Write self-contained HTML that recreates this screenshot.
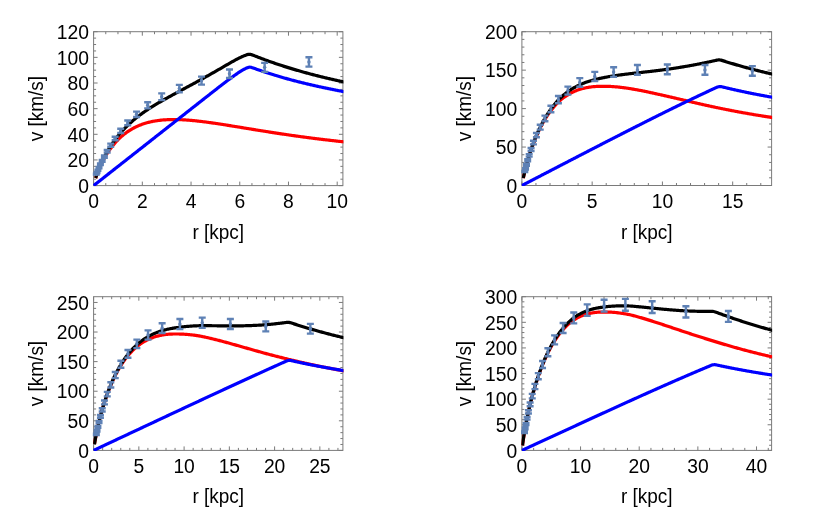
<!DOCTYPE html>
<html><head><meta charset="utf-8"><title>Rotation curves</title>
<style>html,body{margin:0;padding:0;background:#fff;}body{width:830px;height:513px;overflow:hidden;font-family:"Liberation Sans",sans-serif;}</style>
</head><body>
<svg width="830" height="513" viewBox="0 0 830 513" style="display:block;will-change:transform">
<rect width="830" height="513" fill="#fff"/>
<clipPath id="c0"><rect x="93.1" y="31.2" width="250.30" height="154.90"/></clipPath>
<g stroke="#7a7a7a" stroke-width="1" fill="none">
<rect x="93.6" y="31.7" width="249.30" height="153.90"/>
<path d="M93.60,185.6v-4.0M93.60,31.7v4.0M105.78,185.6v-2.5M105.78,31.7v2.5M117.96,185.6v-2.5M117.96,31.7v2.5M130.14,185.6v-2.5M130.14,31.7v2.5M142.32,185.6v-4.0M142.32,31.7v4.0M154.50,185.6v-2.5M154.50,31.7v2.5M166.68,185.6v-2.5M166.68,31.7v2.5M178.86,185.6v-2.5M178.86,31.7v2.5M191.04,185.6v-4.0M191.04,31.7v4.0M203.22,185.6v-2.5M203.22,31.7v2.5M215.40,185.6v-2.5M215.40,31.7v2.5M227.58,185.6v-2.5M227.58,31.7v2.5M239.76,185.6v-4.0M239.76,31.7v4.0M251.94,185.6v-2.5M251.94,31.7v2.5M264.12,185.6v-2.5M264.12,31.7v2.5M276.30,185.6v-2.5M276.30,31.7v2.5M288.48,185.6v-4.0M288.48,31.7v4.0M300.66,185.6v-2.5M300.66,31.7v2.5M312.84,185.6v-2.5M312.84,31.7v2.5M325.02,185.6v-2.5M325.02,31.7v2.5M337.20,185.6v-4.0M337.20,31.7v4.0M93.6,185.60h4.0M342.9,185.60h-4.0M93.6,179.19h2.5M342.9,179.19h-2.5M93.6,172.78h2.5M342.9,172.78h-2.5M93.6,166.36h2.5M342.9,166.36h-2.5M93.6,159.95h4.0M342.9,159.95h-4.0M93.6,153.54h2.5M342.9,153.54h-2.5M93.6,147.12h2.5M342.9,147.12h-2.5M93.6,140.71h2.5M342.9,140.71h-2.5M93.6,134.30h4.0M342.9,134.30h-4.0M93.6,127.89h2.5M342.9,127.89h-2.5M93.6,121.47h2.5M342.9,121.47h-2.5M93.6,115.06h2.5M342.9,115.06h-2.5M93.6,108.65h4.0M342.9,108.65h-4.0M93.6,102.24h2.5M342.9,102.24h-2.5M93.6,95.83h2.5M342.9,95.83h-2.5M93.6,89.41h2.5M342.9,89.41h-2.5M93.6,83.00h4.0M342.9,83.00h-4.0M93.6,76.59h2.5M342.9,76.59h-2.5M93.6,70.17h2.5M342.9,70.17h-2.5M93.6,63.76h2.5M342.9,63.76h-2.5M93.6,57.35h4.0M342.9,57.35h-4.0M93.6,50.94h2.5M342.9,50.94h-2.5M93.6,44.53h2.5M342.9,44.53h-2.5M93.6,38.11h2.5M342.9,38.11h-2.5M93.6,31.70h4.0M342.9,31.70h-4.0"/>
</g>
<g clip-path="url(#c0)" fill="none" stroke-linejoin="round" stroke-linecap="butt" stroke-width="3.2">
<path d="M95.67,178.14 L95.68,178.12 L95.89,177.49 L96.09,176.88 L96.30,176.28 L96.51,175.69 L96.72,175.11 L96.92,174.53 L97.13,173.97 L97.34,173.42 L97.55,172.88 L97.75,172.34 L97.96,171.81 L98.17,171.29 L98.38,170.77 L98.59,170.27 L98.79,169.76 L99.00,169.27 L99.21,168.78 L99.42,168.30 L99.62,167.82 L99.83,167.35 L100.04,166.89 L100.25,166.43 L100.46,165.97 L100.66,165.52 L100.87,165.08 L101.08,164.64 L101.29,164.20 L101.49,163.77 L101.70,163.35 L101.91,162.92 L102.12,162.51 L102.33,162.10 L102.53,161.69 L102.74,161.28 L102.95,160.88 L103.16,160.49 L103.36,160.10 L103.57,159.71 L103.78,159.32 L103.99,158.94 L104.20,158.57 L104.40,158.19 L104.61,157.82 L104.82,157.46 L105.03,157.09 L105.23,156.74 L105.44,156.38 L105.65,156.03 L105.86,155.68 L106.06,155.33 L106.88,154.00 L107.70,152.72 L108.52,151.48 L109.33,150.28 L110.15,149.13 L110.97,148.01 L111.78,146.93 L112.60,145.88 L113.42,144.87 L114.24,143.89 L115.05,142.95 L115.87,142.03 L116.69,141.15 L117.50,140.29 L118.32,139.46 L119.14,138.66 L119.96,137.88 L120.77,137.13 L121.59,136.40 L122.41,135.70 L123.22,135.01 L124.04,134.36 L124.86,133.72 L125.68,133.10 L126.49,132.50 L127.31,131.93 L128.13,131.37 L128.94,130.83 L129.76,130.31 L130.58,129.80 L131.40,129.32 L132.21,128.85 L133.03,128.39 L133.85,127.96 L134.66,127.53 L135.48,127.13 L136.30,126.73 L137.11,126.35 L137.93,125.99 L138.75,125.64 L139.57,125.30 L140.38,124.97 L141.20,124.66 L142.02,124.36 L142.83,124.07 L143.65,123.79 L144.47,123.53 L145.29,123.27 L146.10,123.03 L146.92,122.80 L147.74,122.57 L148.55,122.36 L149.37,122.15 L150.19,121.96 L151.01,121.77 L151.82,121.60 L152.64,121.43 L153.46,121.27 L154.27,121.12 L155.09,120.98 L155.91,120.84 L156.73,120.72 L157.54,120.60 L158.36,120.49 L159.18,120.38 L159.99,120.29 L160.81,120.19 L161.63,120.11 L162.45,120.03 L163.26,119.96 L164.08,119.90 L164.90,119.84 L165.71,119.79 L166.53,119.74 L167.35,119.70 L168.16,119.66 L168.98,119.63 L169.80,119.61 L170.62,119.58 L171.43,119.57 L172.25,119.56 L173.07,119.55 L173.88,119.55 L174.70,119.55 L175.52,119.56 L176.34,119.57 L177.15,119.59 L177.97,119.61 L178.79,119.63 L179.60,119.66 L180.42,119.69 L181.24,119.73 L182.06,119.76 L182.87,119.81 L183.69,119.85 L184.51,119.90 L185.32,119.95 L186.14,120.00 L186.96,120.06 L187.78,120.12 L188.59,120.19 L189.41,120.25 L190.23,120.32 L191.04,120.39 L191.86,120.46 L192.68,120.54 L193.50,120.62 L194.31,120.70 L195.13,120.78 L195.95,120.87 L196.76,120.95 L197.58,121.04 L198.40,121.13 L199.21,121.23 L200.03,121.32 L200.85,121.42 L201.67,121.52 L202.48,121.62 L203.30,121.72 L204.12,121.82 L204.93,121.93 L205.75,122.03 L206.57,122.14 L207.39,122.25 L208.20,122.36 L209.02,122.47 L209.84,122.59 L210.65,122.70 L211.47,122.82 L212.29,122.93 L213.11,123.05 L213.92,123.17 L214.74,123.29 L215.56,123.41 L216.37,123.53 L217.19,123.65 L218.01,123.77 L218.83,123.90 L219.64,124.02 L220.46,124.15 L221.28,124.27 L222.09,124.40 L222.91,124.53 L223.73,124.65 L224.55,124.78 L225.36,124.91 L226.18,125.04 L227.00,125.17 L227.81,125.30 L228.63,125.43 L229.45,125.56 L230.26,125.69 L231.08,125.83 L231.90,125.96 L232.72,126.09 L233.53,126.22 L234.35,126.35 L235.17,126.49 L235.98,126.62 L236.80,126.75 L237.62,126.89 L238.44,127.02 L239.25,127.16 L240.07,127.29 L240.89,127.42 L241.70,127.56 L242.52,127.69 L243.34,127.83 L244.16,127.96 L244.97,128.09 L245.79,128.23 L246.61,128.36 L247.42,128.50 L248.24,128.63 L249.06,128.77 L249.88,128.90 L250.69,129.03 L251.51,129.17 L252.33,129.30 L253.14,129.43 L253.96,129.57 L254.78,129.70 L255.59,129.83 L256.41,129.96 L257.23,130.10 L258.05,130.23 L258.86,130.36 L259.68,130.49 L260.50,130.62 L261.31,130.75 L262.13,130.89 L262.95,131.02 L263.77,131.15 L264.58,131.28 L265.40,131.41 L266.22,131.53 L267.03,131.66 L267.85,131.79 L268.67,131.92 L269.49,132.05 L270.30,132.18 L271.12,132.30 L271.94,132.43 L272.75,132.56 L273.57,132.68 L274.39,132.81 L275.21,132.93 L276.02,133.06 L276.84,133.18 L277.66,133.31 L278.47,133.43 L279.29,133.56 L280.11,133.68 L280.93,133.80 L281.74,133.92 L282.56,134.05 L283.38,134.17 L284.19,134.29 L285.01,134.41 L285.83,134.53 L286.64,134.65 L287.46,134.77 L288.28,134.89 L289.10,135.00 L289.91,135.12 L290.73,135.24 L291.55,135.36 L292.36,135.47 L293.18,135.59 L294.00,135.70 L294.82,135.82 L295.63,135.93 L296.45,136.05 L297.27,136.16 L298.08,136.27 L298.90,136.39 L299.72,136.50 L300.54,136.61 L301.35,136.72 L302.17,136.83 L302.99,136.94 L303.80,137.05 L304.62,137.16 L305.44,137.27 L306.26,137.38 L307.07,137.48 L307.89,137.59 L308.71,137.70 L309.52,137.81 L310.34,137.91 L311.16,138.02 L311.98,138.12 L312.79,138.23 L313.61,138.33 L314.43,138.43 L315.24,138.54 L316.06,138.64 L316.88,138.74 L317.69,138.84 L318.51,138.94 L319.33,139.04 L320.15,139.14 L320.96,139.24 L321.78,139.34 L322.60,139.44 L323.41,139.54 L324.23,139.64 L325.05,139.73 L325.87,139.83 L326.68,139.93 L327.50,140.02 L328.32,140.12 L329.13,140.21 L329.95,140.31 L330.77,140.40 L331.59,140.50 L332.40,140.59 L333.22,140.68 L334.04,140.77 L334.85,140.87 L335.67,140.96 L336.49,141.05 L337.31,141.14 L338.12,141.23 L338.94,141.32 L339.76,141.41 L340.57,141.50 L341.39,141.58 L342.21,141.67 L343.03,141.76 L343.84,141.85 L344.66,141.93 L345.48,142.02 L346.29,142.10 L347.11,142.19 L347.93,142.27 L348.74,142.36 L349.56,142.44 L350.38,142.53" stroke="#ff0000"/>
<path d="M93.60,185.60 L93.81,185.44 L94.02,185.27 L94.22,185.11 L94.43,184.95 L94.64,184.78 L94.85,184.62 L95.05,184.46 L95.26,184.29 L95.47,184.13 L95.67,183.97 L95.68,183.97 L95.89,183.80 L96.09,183.64 L96.30,183.48 L96.51,183.31 L96.72,183.15 L96.92,182.99 L97.13,182.82 L97.34,182.66 L97.55,182.50 L97.75,182.33 L97.96,182.17 L98.17,182.01 L98.38,181.84 L98.59,181.68 L98.79,181.52 L99.00,181.35 L99.21,181.19 L99.42,181.03 L99.62,180.86 L99.83,180.70 L100.04,180.54 L100.25,180.37 L100.46,180.21 L100.66,180.05 L100.87,179.88 L101.08,179.72 L101.29,179.56 L101.49,179.39 L101.70,179.23 L101.91,179.07 L102.12,178.90 L102.33,178.74 L102.53,178.58 L102.74,178.41 L102.95,178.25 L103.16,178.09 L103.36,177.92 L103.57,177.76 L103.78,177.60 L103.99,177.44 L104.20,177.27 L104.40,177.11 L104.61,176.95 L104.82,176.78 L105.03,176.62 L105.23,176.46 L105.44,176.29 L105.65,176.13 L105.86,175.97 L106.06,175.80 L106.88,175.16 L107.70,174.52 L108.52,173.88 L109.33,173.23 L110.15,172.59 L110.97,171.95 L111.78,171.31 L112.60,170.66 L113.42,170.02 L114.24,169.38 L115.05,168.74 L115.87,168.09 L116.69,167.45 L117.50,166.81 L118.32,166.17 L119.14,165.53 L119.96,164.88 L120.77,164.24 L121.59,163.60 L122.41,162.96 L123.22,162.31 L124.04,161.67 L124.86,161.03 L125.68,160.39 L126.49,159.75 L127.31,159.10 L128.13,158.46 L128.94,157.82 L129.76,157.18 L130.58,156.53 L131.40,155.89 L132.21,155.25 L133.03,154.61 L133.85,153.96 L134.66,153.32 L135.48,152.68 L136.30,152.04 L137.11,151.40 L137.93,150.75 L138.75,150.11 L139.57,149.47 L140.38,148.83 L141.20,148.18 L142.02,147.54 L142.83,146.90 L143.65,146.26 L144.47,145.62 L145.29,144.97 L146.10,144.33 L146.92,143.69 L147.74,143.05 L148.55,142.40 L149.37,141.76 L150.19,141.12 L151.01,140.48 L151.82,139.84 L152.64,139.19 L153.46,138.55 L154.27,137.91 L155.09,137.27 L155.91,136.62 L156.73,135.98 L157.54,135.34 L158.36,134.70 L159.18,134.05 L159.99,133.41 L160.81,132.77 L161.63,132.13 L162.45,131.49 L163.26,130.84 L164.08,130.20 L164.90,129.56 L165.71,128.92 L166.53,128.27 L167.35,127.63 L168.16,126.99 L168.98,126.35 L169.80,125.71 L170.62,125.06 L171.43,124.42 L172.25,123.78 L173.07,123.14 L173.88,122.49 L174.70,121.85 L175.52,121.21 L176.34,120.57 L177.15,119.92 L177.97,119.28 L178.79,118.64 L179.60,118.00 L180.42,117.36 L181.24,116.71 L182.06,116.07 L182.87,115.43 L183.69,114.79 L184.51,114.14 L185.32,113.50 L186.14,112.86 L186.96,112.22 L187.78,111.58 L188.59,110.93 L189.41,110.29 L190.23,109.65 L191.04,109.01 L191.86,108.36 L192.68,107.72 L193.50,107.08 L194.31,106.44 L195.13,105.80 L195.95,105.15 L196.76,104.51 L197.58,103.87 L198.40,103.23 L199.21,102.59 L200.03,101.94 L200.85,101.30 L201.67,100.66 L202.48,100.02 L203.30,99.38 L204.12,98.74 L204.93,98.09 L205.75,97.45 L206.57,96.81 L207.39,96.17 L208.20,95.53 L209.02,94.89 L209.84,94.25 L210.65,93.61 L211.47,92.97 L212.29,92.33 L213.11,91.69 L213.92,91.05 L214.74,90.41 L215.56,89.77 L216.37,89.14 L217.19,88.50 L218.01,87.86 L218.83,87.23 L219.64,86.59 L220.46,85.96 L221.28,85.33 L222.09,84.70 L222.91,84.07 L223.73,83.44 L224.55,82.81 L225.36,82.19 L226.18,81.57 L227.00,80.95 L227.81,80.33 L228.63,79.71 L229.45,79.10 L230.26,78.49 L231.08,77.89 L231.90,77.29 L232.72,76.69 L233.53,76.10 L234.35,75.52 L235.17,74.94 L235.98,74.37 L236.80,73.81 L237.62,73.25 L238.44,72.71 L239.25,72.17 L240.07,71.65 L240.89,71.14 L241.70,70.64 L242.52,70.16 L243.34,69.70 L244.16,69.25 L244.97,68.83 L245.79,68.42 L246.61,68.04 L247.42,67.69 L248.24,67.41 L249.06,67.25 L249.88,67.20 L250.69,67.26 L251.51,67.41 L252.33,67.66 L253.14,67.96 L253.96,68.26 L254.78,68.56 L255.59,68.85 L256.41,69.14 L257.23,69.44 L258.05,69.72 L258.86,70.01 L259.68,70.30 L260.50,70.58 L261.31,70.86 L262.13,71.14 L262.95,71.41 L263.77,71.69 L264.58,71.96 L265.40,72.23 L266.22,72.50 L267.03,72.77 L267.85,73.03 L268.67,73.29 L269.49,73.56 L270.30,73.82 L271.12,74.07 L271.94,74.33 L272.75,74.58 L273.57,74.83 L274.39,75.09 L275.21,75.33 L276.02,75.58 L276.84,75.83 L277.66,76.07 L278.47,76.31 L279.29,76.55 L280.11,76.79 L280.93,77.03 L281.74,77.27 L282.56,77.50 L283.38,77.73 L284.19,77.97 L285.01,78.20 L285.83,78.42 L286.64,78.65 L287.46,78.88 L288.28,79.10 L289.10,79.32 L289.91,79.55 L290.73,79.77 L291.55,79.98 L292.36,80.20 L293.18,80.42 L294.00,80.63 L294.82,80.85 L295.63,81.06 L296.45,81.27 L297.27,81.48 L298.08,81.69 L298.90,81.89 L299.72,82.10 L300.54,82.30 L301.35,82.51 L302.17,82.71 L302.99,82.91 L303.80,83.11 L304.62,83.31 L305.44,83.51 L306.26,83.70 L307.07,83.90 L307.89,84.09 L308.71,84.28 L309.52,84.48 L310.34,84.67 L311.16,84.86 L311.98,85.05 L312.79,85.23 L313.61,85.42 L314.43,85.60 L315.24,85.79 L316.06,85.97 L316.88,86.16 L317.69,86.34 L318.51,86.52 L319.33,86.70 L320.15,86.88 L320.96,87.05 L321.78,87.23 L322.60,87.40 L323.41,87.58 L324.23,87.75 L325.05,87.93 L325.87,88.10 L326.68,88.27 L327.50,88.44 L328.32,88.61 L329.13,88.78 L329.95,88.94 L330.77,89.11 L331.59,89.28 L332.40,89.44 L333.22,89.61 L334.04,89.77 L334.85,89.93 L335.67,90.09 L336.49,90.25 L337.31,90.41 L338.12,90.57 L338.94,90.73 L339.76,90.89 L340.57,91.05 L341.39,91.20 L342.21,91.36 L343.03,91.51 L343.84,91.67 L344.66,91.82 L345.48,91.97 L346.29,92.12 L347.11,92.27 L347.93,92.42 L348.74,92.57 L349.56,92.72 L350.38,92.87" stroke="#0000ff"/>
<path d="M95.67,177.96 L95.68,177.94 L95.89,177.29 L96.09,176.66 L96.30,176.04 L96.51,175.43 L96.72,174.82 L96.92,174.23 L97.13,173.65 L97.34,173.07 L97.55,172.50 L97.75,171.94 L97.96,171.39 L98.17,170.84 L98.38,170.30 L98.59,169.77 L98.79,169.25 L99.00,168.73 L99.21,168.21 L99.42,167.70 L99.62,167.20 L99.83,166.70 L100.04,166.21 L100.25,165.73 L100.46,165.24 L100.66,164.77 L100.87,164.30 L101.08,163.83 L101.29,163.36 L101.49,162.91 L101.70,162.45 L101.91,162.00 L102.12,161.56 L102.33,161.12 L102.53,160.68 L102.74,160.24 L102.95,159.81 L103.16,159.39 L103.36,158.97 L103.57,158.55 L103.78,158.13 L103.99,157.72 L104.20,157.31 L104.40,156.91 L104.61,156.51 L104.82,156.11 L105.03,155.71 L105.23,155.32 L105.44,154.93 L105.65,154.55 L105.86,154.17 L106.06,153.79 L106.88,152.32 L107.70,150.90 L108.52,149.52 L109.33,148.18 L110.15,146.88 L110.97,145.61 L111.78,144.37 L112.60,143.17 L113.42,141.99 L114.24,140.85 L115.05,139.74 L115.87,138.65 L116.69,137.59 L117.50,136.55 L118.32,135.54 L119.14,134.55 L119.96,133.58 L120.77,132.63 L121.59,131.71 L122.41,130.80 L123.22,129.91 L124.04,129.04 L124.86,128.19 L125.68,127.36 L126.49,126.54 L127.31,125.74 L128.13,124.96 L128.94,124.19 L129.76,123.43 L130.58,122.69 L131.40,121.96 L132.21,121.24 L133.03,120.54 L133.85,119.85 L134.66,119.17 L135.48,118.50 L136.30,117.84 L137.11,117.19 L137.93,116.55 L138.75,115.92 L139.57,115.30 L140.38,114.69 L141.20,114.09 L142.02,113.50 L142.83,112.91 L143.65,112.33 L144.47,111.76 L145.29,111.20 L146.10,110.64 L146.92,110.09 L147.74,109.55 L148.55,109.01 L149.37,108.48 L150.19,107.96 L151.01,107.43 L151.82,106.92 L152.64,106.41 L153.46,105.90 L154.27,105.40 L155.09,104.90 L155.91,104.41 L156.73,103.92 L157.54,103.43 L158.36,102.95 L159.18,102.47 L159.99,102.00 L160.81,101.52 L161.63,101.05 L162.45,100.59 L163.26,100.12 L164.08,99.66 L164.90,99.20 L165.71,98.74 L166.53,98.28 L167.35,97.83 L168.16,97.38 L168.98,96.93 L169.80,96.48 L170.62,96.03 L171.43,95.58 L172.25,95.14 L173.07,94.69 L173.88,94.25 L174.70,93.81 L175.52,93.37 L176.34,92.92 L177.15,92.48 L177.97,92.04 L178.79,91.60 L179.60,91.16 L180.42,90.72 L181.24,90.29 L182.06,89.85 L182.87,89.41 L183.69,88.97 L184.51,88.53 L185.32,88.09 L186.14,87.65 L186.96,87.21 L187.78,86.77 L188.59,86.33 L189.41,85.89 L190.23,85.45 L191.04,85.01 L191.86,84.57 L192.68,84.12 L193.50,83.68 L194.31,83.23 L195.13,82.79 L195.95,82.34 L196.76,81.90 L197.58,81.45 L198.40,81.00 L199.21,80.55 L200.03,80.10 L200.85,79.65 L201.67,79.20 L202.48,78.75 L203.30,78.29 L204.12,77.84 L204.93,77.38 L205.75,76.92 L206.57,76.47 L207.39,76.01 L208.20,75.55 L209.02,75.09 L209.84,74.62 L210.65,74.16 L211.47,73.70 L212.29,73.23 L213.11,72.76 L213.92,72.30 L214.74,71.83 L215.56,71.36 L216.37,70.89 L217.19,70.42 L218.01,69.95 L218.83,69.48 L219.64,69.01 L220.46,68.53 L221.28,68.06 L222.09,67.59 L222.91,67.11 L223.73,66.64 L224.55,66.17 L225.36,65.70 L226.18,65.22 L227.00,64.75 L227.81,64.28 L228.63,63.81 L229.45,63.34 L230.26,62.88 L231.08,62.41 L231.90,61.95 L232.72,61.50 L233.53,61.04 L234.35,60.59 L235.17,60.14 L235.98,59.70 L236.80,59.27 L237.62,58.84 L238.44,58.42 L239.25,58.00 L240.07,57.60 L240.89,57.21 L241.70,56.82 L242.52,56.45 L243.34,56.10 L244.16,55.76 L244.97,55.43 L245.79,55.13 L246.61,54.85 L247.42,54.59 L248.24,54.39 L249.06,54.31 L249.88,54.32 L250.69,54.43 L251.51,54.63 L252.33,54.91 L253.14,55.24 L253.96,55.56 L254.78,55.89 L255.59,56.21 L256.41,56.54 L257.23,56.86 L258.05,57.17 L258.86,57.49 L259.68,57.80 L260.50,58.11 L261.31,58.42 L262.13,58.73 L262.95,59.04 L263.77,59.34 L264.58,59.64 L265.40,59.94 L266.22,60.24 L267.03,60.54 L267.85,60.83 L268.67,61.13 L269.49,61.42 L270.30,61.71 L271.12,61.99 L271.94,62.28 L272.75,62.56 L273.57,62.84 L274.39,63.12 L275.21,63.40 L276.02,63.68 L276.84,63.96 L277.66,64.23 L278.47,64.50 L279.29,64.77 L280.11,65.04 L280.93,65.31 L281.74,65.57 L282.56,65.84 L283.38,66.10 L284.19,66.36 L285.01,66.62 L285.83,66.88 L286.64,67.13 L287.46,67.39 L288.28,67.64 L289.10,67.89 L289.91,68.14 L290.73,68.39 L291.55,68.64 L292.36,68.89 L293.18,69.13 L294.00,69.38 L294.82,69.62 L295.63,69.86 L296.45,70.10 L297.27,70.34 L298.08,70.57 L298.90,70.81 L299.72,71.04 L300.54,71.27 L301.35,71.51 L302.17,71.74 L302.99,71.96 L303.80,72.19 L304.62,72.42 L305.44,72.64 L306.26,72.87 L307.07,73.09 L307.89,73.31 L308.71,73.53 L309.52,73.75 L310.34,73.97 L311.16,74.18 L311.98,74.40 L312.79,74.61 L313.61,74.83 L314.43,75.04 L315.24,75.25 L316.06,75.46 L316.88,75.67 L317.69,75.88 L318.51,76.08 L319.33,76.29 L320.15,76.49 L320.96,76.69 L321.78,76.90 L322.60,77.10 L323.41,77.30 L324.23,77.50 L325.05,77.69 L325.87,77.89 L326.68,78.09 L327.50,78.28 L328.32,78.47 L329.13,78.67 L329.95,78.86 L330.77,79.05 L331.59,79.24 L332.40,79.43 L333.22,79.62 L334.04,79.80 L334.85,79.99 L335.67,80.17 L336.49,80.36 L337.31,80.54 L338.12,80.72 L338.94,80.91 L339.76,81.09 L340.57,81.27 L341.39,81.44 L342.21,81.62 L343.03,81.80 L343.84,81.98 L344.66,82.15 L345.48,82.32 L346.29,82.50 L347.11,82.67 L347.93,82.84 L348.74,83.01 L349.56,83.18 L350.38,83.35" stroke="#000"/>
</g>
<g fill="#5e81b5"><path d="M305.44,57.27h7.0M305.44,66.67h7.0M308.94,57.27V66.67M261.15,62.86h7.0M261.15,71.85h7.0M264.65,62.86V71.85M225.97,69.45h7.0M225.97,77.95h7.0M229.47,69.45V77.95M198.03,76.64h7.0M198.03,84.62h7.0M201.53,76.64V84.62M175.83,84.83h7.0M175.83,92.20h7.0M179.33,84.83V92.20M158.20,93.35h7.0M158.20,100.10h7.0M161.70,93.35V100.10M144.19,102.26h7.0M144.19,108.37h7.0M147.69,102.26V108.37M133.07,111.58h7.0M133.07,117.00h7.0M136.57,111.58V117.00M124.23,120.50h7.0M124.23,125.27h7.0M127.73,120.50V125.27M117.21,128.82h7.0M117.21,132.98h7.0M120.71,128.82V132.98M111.63,136.74h7.0M111.63,140.32h7.0M115.13,136.74V140.32M107.21,143.67h7.0M107.21,146.74h7.0M110.71,143.67V146.74M103.69,149.92h7.0M103.69,152.54h7.0M107.19,149.92V152.54M100.89,155.51h7.0M100.89,157.72h7.0M104.39,155.51V157.72M98.67,160.04h7.0M98.67,161.91h7.0M102.17,160.04V161.91M96.91,163.37h7.0M96.91,165.00h7.0M100.41,163.37V165.00M95.51,166.96h7.0M95.51,168.33h7.0M99.01,166.96V168.33M94.40,169.76h7.0M94.40,170.92h7.0M97.90,169.76V170.92M93.51,172.02h7.0M93.51,173.02h7.0M97.01,172.02V173.02M92.81,173.75h7.0M92.81,174.62h7.0M96.31,173.75V174.62" fill="none" stroke="#5e81b5" stroke-width="2.4"/><circle cx="308.94" cy="61.97" r="1.7"/><circle cx="264.65" cy="67.35" r="1.7"/><circle cx="229.47" cy="73.70" r="1.7"/><circle cx="201.53" cy="80.63" r="1.7"/><circle cx="179.33" cy="88.51" r="1.7"/><circle cx="161.70" cy="96.72" r="1.7"/><circle cx="147.69" cy="105.32" r="1.7"/><circle cx="136.57" cy="114.29" r="1.7"/><circle cx="127.73" cy="122.89" r="1.7"/><circle cx="120.71" cy="130.90" r="1.7"/><circle cx="115.13" cy="138.53" r="1.7"/><circle cx="110.71" cy="145.20" r="1.7"/><circle cx="107.19" cy="151.23" r="1.7"/><circle cx="104.39" cy="156.62" r="1.7"/><circle cx="102.17" cy="160.98" r="1.7"/><circle cx="100.41" cy="164.18" r="1.7"/><circle cx="99.01" cy="167.64" r="1.7"/><circle cx="97.90" cy="170.34" r="1.7"/><circle cx="97.01" cy="172.52" r="1.7"/><circle cx="96.31" cy="174.19" r="1.7"/></g>
<g font-family="Liberation Sans, sans-serif" fill="#000">
<text transform="translate(93.60,207.80) scale(1,1.075)" text-anchor="middle" font-size="19.3">0</text>
<text transform="translate(142.32,207.80) scale(1,1.075)" text-anchor="middle" font-size="19.3">2</text>
<text transform="translate(191.04,207.80) scale(1,1.075)" text-anchor="middle" font-size="19.3">4</text>
<text transform="translate(239.76,207.80) scale(1,1.075)" text-anchor="middle" font-size="19.3">6</text>
<text transform="translate(288.48,207.80) scale(1,1.075)" text-anchor="middle" font-size="19.3">8</text>
<text transform="translate(337.20,207.80) scale(1,1.075)" text-anchor="middle" font-size="19.3">10</text>
<text transform="translate(89.00,192.80) scale(1,1.075)" text-anchor="end" font-size="19.3">0</text>
<text transform="translate(89.00,167.15) scale(1,1.075)" text-anchor="end" font-size="19.3">20</text>
<text transform="translate(89.00,141.50) scale(1,1.075)" text-anchor="end" font-size="19.3">40</text>
<text transform="translate(89.00,115.85) scale(1,1.075)" text-anchor="end" font-size="19.3">60</text>
<text transform="translate(89.00,90.20) scale(1,1.075)" text-anchor="end" font-size="19.3">80</text>
<text transform="translate(89.00,64.55) scale(1,1.075)" text-anchor="end" font-size="19.3">100</text>
<text transform="translate(89.00,38.90) scale(1,1.075)" text-anchor="end" font-size="19.3">120</text>
<text transform="translate(218.25,238.60) scale(1,1.045)" text-anchor="middle" font-size="19.0">r [kpc]</text>
<text transform="translate(43.10,108.65) rotate(-90) scale(1,1.045)" text-anchor="middle" font-size="19.0">v [km/s]</text>
</g>
<clipPath id="c1"><rect x="521.4" y="31.2" width="250.70" height="154.80"/></clipPath>
<g stroke="#7a7a7a" stroke-width="1" fill="none">
<rect x="521.9" y="31.7" width="249.70" height="153.80"/>
<path d="M521.90,185.5v-4.0M521.90,31.7v4.0M535.95,185.5v-2.5M535.95,31.7v2.5M550.00,185.5v-2.5M550.00,31.7v2.5M564.06,185.5v-2.5M564.06,31.7v2.5M578.11,185.5v-2.5M578.11,31.7v2.5M592.16,185.5v-4.0M592.16,31.7v4.0M606.21,185.5v-2.5M606.21,31.7v2.5M620.26,185.5v-2.5M620.26,31.7v2.5M634.31,185.5v-2.5M634.31,31.7v2.5M648.37,185.5v-2.5M648.37,31.7v2.5M662.42,185.5v-4.0M662.42,31.7v4.0M676.47,185.5v-2.5M676.47,31.7v2.5M690.52,185.5v-2.5M690.52,31.7v2.5M704.57,185.5v-2.5M704.57,31.7v2.5M718.62,185.5v-2.5M718.62,31.7v2.5M732.68,185.5v-4.0M732.68,31.7v4.0M746.73,185.5v-2.5M746.73,31.7v2.5M760.78,185.5v-2.5M760.78,31.7v2.5M521.9,185.50h4.0M771.6,185.50h-4.0M521.9,177.81h2.5M771.6,177.81h-2.5M521.9,170.12h2.5M771.6,170.12h-2.5M521.9,162.43h2.5M771.6,162.43h-2.5M521.9,154.74h2.5M771.6,154.74h-2.5M521.9,147.05h4.0M771.6,147.05h-4.0M521.9,139.36h2.5M771.6,139.36h-2.5M521.9,131.67h2.5M771.6,131.67h-2.5M521.9,123.98h2.5M771.6,123.98h-2.5M521.9,116.29h2.5M771.6,116.29h-2.5M521.9,108.60h4.0M771.6,108.60h-4.0M521.9,100.91h2.5M771.6,100.91h-2.5M521.9,93.22h2.5M771.6,93.22h-2.5M521.9,85.53h2.5M771.6,85.53h-2.5M521.9,77.84h2.5M771.6,77.84h-2.5M521.9,70.15h4.0M771.6,70.15h-4.0M521.9,62.46h2.5M771.6,62.46h-2.5M521.9,54.77h2.5M771.6,54.77h-2.5M521.9,47.08h2.5M771.6,47.08h-2.5M521.9,39.39h2.5M771.6,39.39h-2.5M521.9,31.70h4.0M771.6,31.70h-4.0"/>
</g>
<g clip-path="url(#c1)" fill="none" stroke-linejoin="round" stroke-linecap="butt" stroke-width="3.2">
<path d="M523.31,178.08 L523.36,177.84 L523.56,176.87 L523.77,175.92 L523.98,175.00 L524.19,174.10 L524.40,173.22 L524.61,172.35 L524.81,171.50 L525.02,170.67 L525.23,169.85 L525.44,169.04 L525.65,168.25 L525.85,167.47 L526.06,166.70 L526.27,165.91 L526.48,165.13 L526.69,164.35 L526.89,163.58 L527.10,162.83 L527.31,162.08 L527.52,161.35 L527.73,160.62 L527.93,159.90 L528.14,159.19 L528.35,158.49 L528.56,157.79 L528.77,157.11 L528.97,156.43 L529.18,155.76 L529.39,155.10 L529.60,154.44 L529.81,153.79 L530.02,153.15 L530.22,152.51 L530.43,151.89 L530.64,151.27 L530.85,150.65 L531.06,150.04 L531.26,149.43 L531.47,148.83 L531.68,148.23 L531.89,147.64 L532.10,147.05 L532.30,146.47 L532.51,145.90 L532.72,145.33 L532.93,144.76 L533.14,144.21 L533.34,143.65 L533.55,143.11 L533.76,142.56 L533.97,142.02 L534.18,141.49 L534.38,140.96 L535.20,138.93 L536.02,136.97 L536.84,135.08 L537.66,133.25 L538.48,131.48 L539.30,129.77 L540.11,128.12 L540.93,126.52 L541.75,124.98 L542.57,123.48 L543.39,122.03 L544.21,120.63 L545.02,119.27 L545.84,117.93 L546.66,116.64 L547.48,115.39 L548.30,114.17 L549.12,113.00 L549.93,111.86 L550.75,110.75 L551.57,109.69 L552.39,108.65 L553.21,107.65 L554.03,106.68 L554.85,105.73 L555.66,104.82 L556.48,103.94 L557.30,103.09 L558.12,102.26 L558.94,101.49 L559.76,100.76 L560.57,100.06 L561.39,99.38 L562.21,98.72 L563.03,98.09 L563.85,97.48 L564.67,96.90 L565.48,96.33 L566.30,95.79 L567.12,95.26 L567.94,94.76 L568.76,94.27 L569.58,93.81 L570.40,93.36 L571.21,92.93 L572.03,92.52 L572.85,92.12 L573.67,91.74 L574.49,91.38 L575.31,91.03 L576.12,90.70 L576.94,90.38 L577.76,90.08 L578.58,89.79 L579.40,89.52 L580.22,89.26 L581.03,89.01 L581.85,88.78 L582.67,88.56 L583.49,88.35 L584.31,88.15 L585.13,87.96 L585.95,87.79 L586.76,87.63 L587.58,87.47 L588.40,87.33 L589.22,87.20 L590.04,87.08 L590.86,86.97 L591.67,86.86 L592.49,86.77 L593.31,86.69 L594.13,86.61 L594.95,86.54 L595.77,86.49 L596.58,86.44 L597.40,86.40 L598.22,86.36 L599.04,86.33 L599.86,86.32 L600.68,86.30 L601.50,86.30 L602.31,86.30 L603.13,86.31 L603.95,86.31 L604.77,86.31 L605.59,86.31 L606.41,86.33 L607.22,86.34 L608.04,86.37 L608.86,86.39 L609.68,86.43 L610.50,86.47 L611.32,86.51 L612.13,86.56 L612.95,86.61 L613.77,86.67 L614.59,86.73 L615.41,86.80 L616.23,86.87 L617.04,86.95 L617.86,87.03 L618.68,87.11 L619.50,87.20 L620.32,87.29 L621.14,87.39 L621.96,87.49 L622.77,87.59 L623.59,87.70 L624.41,87.80 L625.23,87.92 L626.05,88.03 L626.87,88.15 L627.68,88.27 L628.50,88.39 L629.32,88.52 L630.14,88.65 L630.96,88.78 L631.78,88.91 L632.59,89.05 L633.41,89.18 L634.23,89.32 L635.05,89.47 L635.87,89.61 L636.69,89.76 L637.51,89.91 L638.32,90.05 L639.14,90.21 L639.96,90.36 L640.78,90.52 L641.60,90.69 L642.42,90.85 L643.23,91.02 L644.05,91.18 L644.87,91.35 L645.69,91.52 L646.51,91.69 L647.33,91.87 L648.14,92.04 L648.96,92.22 L649.78,92.39 L650.60,92.57 L651.42,92.75 L652.24,92.92 L653.06,93.10 L653.87,93.28 L654.69,93.46 L655.51,93.64 L656.33,93.83 L657.15,94.01 L657.97,94.19 L658.78,94.38 L659.60,94.56 L660.42,94.74 L661.24,94.93 L662.06,95.11 L662.88,95.30 L663.69,95.49 L664.51,95.67 L665.33,95.86 L666.15,96.05 L666.97,96.23 L667.79,96.42 L668.61,96.61 L669.42,96.79 L670.24,96.98 L671.06,97.17 L671.88,97.36 L672.70,97.54 L673.52,97.73 L674.33,97.92 L675.15,98.10 L675.97,98.29 L676.79,98.48 L677.61,98.68 L678.43,98.87 L679.24,99.07 L680.06,99.27 L680.88,99.46 L681.70,99.66 L682.52,99.85 L683.34,100.05 L684.15,100.24 L684.97,100.43 L685.79,100.63 L686.61,100.82 L687.43,101.01 L688.25,101.21 L689.07,101.40 L689.88,101.59 L690.70,101.78 L691.52,101.97 L692.34,102.16 L693.16,102.35 L693.98,102.54 L694.79,102.73 L695.61,102.92 L696.43,103.11 L697.25,103.29 L698.07,103.48 L698.89,103.67 L699.70,103.85 L700.52,104.04 L701.34,104.22 L702.16,104.41 L702.98,104.59 L703.80,104.77 L704.62,104.95 L705.43,105.14 L706.25,105.32 L707.07,105.50 L707.89,105.68 L708.71,105.86 L709.53,106.03 L710.34,106.21 L711.16,106.39 L711.98,106.57 L712.80,106.74 L713.62,106.92 L714.44,107.09 L715.25,107.26 L716.07,107.44 L716.89,107.61 L717.71,107.78 L718.53,107.95 L719.35,108.12 L720.17,108.29 L720.98,108.46 L721.80,108.62 L722.62,108.79 L723.44,108.96 L724.26,109.12 L725.08,109.28 L725.89,109.45 L726.71,109.61 L727.53,109.77 L728.35,109.93 L729.17,110.09 L729.99,110.25 L730.80,110.41 L731.62,110.57 L732.44,110.73 L733.26,110.89 L734.08,111.04 L734.90,111.20 L735.72,111.35 L736.53,111.51 L737.35,111.66 L738.17,111.81 L738.99,111.96 L739.81,112.11 L740.63,112.26 L741.44,112.41 L742.26,112.56 L743.08,112.71 L743.90,112.86 L744.72,113.00 L745.54,113.15 L746.35,113.29 L747.17,113.44 L747.99,113.58 L748.81,113.73 L749.63,113.87 L750.45,114.01 L751.26,114.15 L752.08,114.29 L752.90,114.43 L753.72,114.57 L754.54,114.71 L755.36,114.84 L756.18,114.98 L756.99,115.12 L757.81,115.25 L758.63,115.38 L759.45,115.52 L760.27,115.65 L761.09,115.78 L761.90,115.92 L762.72,116.05 L763.54,116.18 L764.36,116.31 L765.18,116.43 L766.00,116.56 L766.81,116.69 L767.63,116.82 L768.45,116.94 L769.27,117.07 L770.09,117.19 L770.91,117.32 L771.73,117.44 L772.54,117.57 L773.36,117.70 L774.18,117.83 L775.00,117.96 L775.82,118.09 L776.64,118.21 L777.45,118.34 L778.27,118.46 L779.09,118.59" stroke="#ff0000"/>
<path d="M521.90,185.50 L522.11,185.39 L522.32,185.28 L522.52,185.18 L522.73,185.07 L522.94,184.96 L523.15,184.85 L523.31,184.77 L523.36,184.74 L523.56,184.64 L523.77,184.53 L523.98,184.42 L524.19,184.31 L524.40,184.20 L524.61,184.10 L524.81,183.99 L525.02,183.88 L525.23,183.77 L525.44,183.66 L525.65,183.56 L525.85,183.45 L526.06,183.34 L526.27,183.23 L526.48,183.13 L526.69,183.02 L526.89,182.91 L527.10,182.80 L527.31,182.69 L527.52,182.59 L527.73,182.48 L527.93,182.37 L528.14,182.26 L528.35,182.15 L528.56,182.05 L528.77,181.94 L528.97,181.83 L529.18,181.72 L529.39,181.61 L529.60,181.51 L529.81,181.40 L530.02,181.29 L530.22,181.18 L530.43,181.07 L530.64,180.97 L530.85,180.86 L531.06,180.75 L531.26,180.64 L531.47,180.53 L531.68,180.43 L531.89,180.32 L532.10,180.21 L532.30,180.10 L532.51,179.99 L532.72,179.89 L532.93,179.78 L533.14,179.67 L533.34,179.56 L533.55,179.45 L533.76,179.35 L533.97,179.24 L534.18,179.13 L534.38,179.02 L535.20,178.60 L536.02,178.17 L536.84,177.75 L537.66,177.32 L538.48,176.90 L539.30,176.48 L540.11,176.05 L540.93,175.63 L541.75,175.20 L542.57,174.78 L543.39,174.35 L544.21,173.93 L545.02,173.50 L545.84,173.08 L546.66,172.65 L547.48,172.23 L548.30,171.81 L549.12,171.38 L549.93,170.96 L550.75,170.53 L551.57,170.11 L552.39,169.68 L553.21,169.26 L554.03,168.83 L554.85,168.41 L555.66,167.99 L556.48,167.56 L557.30,167.14 L558.12,166.71 L558.94,166.29 L559.76,165.86 L560.57,165.44 L561.39,165.02 L562.21,164.59 L563.03,164.17 L563.85,163.74 L564.67,163.32 L565.48,162.90 L566.30,162.47 L567.12,162.05 L567.94,161.62 L568.76,161.20 L569.58,160.78 L570.40,160.35 L571.21,159.93 L572.03,159.50 L572.85,159.08 L573.67,158.66 L574.49,158.23 L575.31,157.81 L576.12,157.39 L576.94,156.96 L577.76,156.54 L578.58,156.12 L579.40,155.69 L580.22,155.27 L581.03,154.85 L581.85,154.42 L582.67,154.00 L583.49,153.58 L584.31,153.15 L585.13,152.73 L585.95,152.31 L586.76,151.88 L587.58,151.46 L588.40,151.04 L589.22,150.62 L590.04,150.19 L590.86,149.77 L591.67,149.35 L592.49,148.93 L593.31,148.50 L594.13,148.08 L594.95,147.66 L595.77,147.24 L596.58,146.82 L597.40,146.39 L598.22,145.97 L599.04,145.55 L599.86,145.13 L600.68,144.71 L601.50,144.29 L602.31,143.87 L603.13,143.44 L603.95,143.02 L604.77,142.60 L605.59,142.18 L606.41,141.76 L607.22,141.34 L608.04,140.92 L608.86,140.50 L609.68,140.08 L610.50,139.66 L611.32,139.24 L612.13,138.82 L612.95,138.40 L613.77,137.98 L614.59,137.56 L615.41,137.14 L616.23,136.72 L617.04,136.30 L617.86,135.89 L618.68,135.47 L619.50,135.05 L620.32,134.63 L621.14,134.21 L621.96,133.79 L622.77,133.38 L623.59,132.96 L624.41,132.54 L625.23,132.12 L626.05,131.71 L626.87,131.29 L627.68,130.87 L628.50,130.46 L629.32,130.04 L630.14,129.62 L630.96,129.21 L631.78,128.79 L632.59,128.37 L633.41,127.96 L634.23,127.54 L635.05,127.13 L635.87,126.71 L636.69,126.30 L637.51,125.88 L638.32,125.47 L639.14,125.06 L639.96,124.64 L640.78,124.23 L641.60,123.82 L642.42,123.40 L643.23,122.99 L644.05,122.58 L644.87,122.16 L645.69,121.75 L646.51,121.34 L647.33,120.93 L648.14,120.52 L648.96,120.11 L649.78,119.70 L650.60,119.28 L651.42,118.87 L652.24,118.46 L653.06,118.05 L653.87,117.65 L654.69,117.24 L655.51,116.83 L656.33,116.42 L657.15,116.01 L657.97,115.60 L658.78,115.19 L659.60,114.79 L660.42,114.38 L661.24,113.97 L662.06,113.57 L662.88,113.16 L663.69,112.75 L664.51,112.35 L665.33,111.94 L666.15,111.54 L666.97,111.13 L667.79,110.73 L668.61,110.33 L669.42,109.92 L670.24,109.52 L671.06,109.12 L671.88,108.71 L672.70,108.31 L673.52,107.91 L674.33,107.51 L675.15,107.11 L675.97,106.71 L676.79,106.31 L677.61,105.91 L678.43,105.51 L679.24,105.11 L680.06,104.71 L680.88,104.31 L681.70,103.91 L682.52,103.52 L683.34,103.12 L684.15,102.72 L684.97,102.33 L685.79,101.93 L686.61,101.54 L687.43,101.14 L688.25,100.75 L689.07,100.35 L689.88,99.96 L690.70,99.57 L691.52,99.17 L692.34,98.78 L693.16,98.39 L693.98,98.00 L694.79,97.61 L695.61,97.22 L696.43,96.83 L697.25,96.44 L698.07,96.05 L698.89,95.66 L699.70,95.28 L700.52,94.89 L701.34,94.50 L702.16,94.12 L702.98,93.73 L703.80,93.35 L704.62,92.96 L705.43,92.58 L706.25,92.19 L707.07,91.81 L707.89,91.43 L708.71,91.05 L709.53,90.67 L710.34,90.28 L711.16,89.90 L711.98,89.53 L712.80,89.15 L713.62,88.77 L714.44,88.39 L715.25,88.01 L716.07,87.64 L716.89,87.26 L717.71,86.94 L718.53,86.72 L719.35,86.59 L720.17,86.55 L720.98,86.61 L721.80,86.76 L722.62,86.96 L723.44,87.17 L724.26,87.36 L725.08,87.56 L725.89,87.76 L726.71,87.95 L727.53,88.15 L728.35,88.34 L729.17,88.53 L729.99,88.72 L730.80,88.91 L731.62,89.10 L732.44,89.29 L733.26,89.48 L734.08,89.66 L734.90,89.85 L735.72,90.03 L736.53,90.21 L737.35,90.39 L738.17,90.57 L738.99,90.75 L739.81,90.93 L740.63,91.11 L741.44,91.28 L742.26,91.46 L743.08,91.63 L743.90,91.81 L744.72,91.98 L745.54,92.15 L746.35,92.32 L747.17,92.49 L747.99,92.66 L748.81,92.83 L749.63,92.99 L750.45,93.16 L751.26,93.32 L752.08,93.49 L752.90,93.65 L753.72,93.81 L754.54,93.97 L755.36,94.13 L756.18,94.29 L756.99,94.45 L757.81,94.61 L758.63,94.77 L759.45,94.92 L760.27,95.08 L761.09,95.24 L761.90,95.39 L762.72,95.54 L763.54,95.69 L764.36,95.85 L765.18,96.00 L766.00,96.15 L766.81,96.30 L767.63,96.45 L768.45,96.59 L769.27,96.74 L770.09,96.89 L770.91,97.03 L771.73,97.18 L772.54,97.32 L773.36,97.47 L774.18,97.61 L775.00,97.75 L775.82,97.89 L776.64,98.03 L777.45,98.17 L778.27,98.31 L779.09,98.45" stroke="#0000ff"/>
<path d="M523.31,178.05 L523.36,177.80 L523.56,176.83 L523.77,175.88 L523.98,174.95 L524.19,174.04 L524.40,173.15 L524.61,172.28 L524.81,171.42 L525.02,170.58 L525.23,169.75 L525.44,168.94 L525.65,168.14 L525.85,167.35 L526.06,166.58 L526.27,165.78 L526.48,164.99 L526.69,164.20 L526.89,163.43 L527.10,162.67 L527.31,161.91 L527.52,161.17 L527.73,160.43 L527.93,159.71 L528.14,158.99 L528.35,158.28 L528.56,157.58 L528.77,156.88 L528.97,156.20 L529.18,155.52 L529.39,154.85 L529.60,154.18 L529.81,153.53 L530.02,152.88 L530.22,152.23 L530.43,151.60 L530.64,150.97 L530.85,150.34 L531.06,149.72 L531.26,149.11 L531.47,148.49 L531.68,147.89 L531.89,147.29 L532.10,146.69 L532.30,146.10 L532.51,145.52 L532.72,144.94 L532.93,144.36 L533.14,143.80 L533.34,143.23 L533.55,142.68 L533.76,142.12 L533.97,141.58 L534.18,141.03 L534.38,140.49 L535.20,138.42 L536.02,136.42 L536.84,134.49 L537.66,132.62 L538.48,130.80 L539.30,129.05 L540.11,127.35 L540.93,125.70 L541.75,124.11 L542.57,122.56 L543.39,121.06 L544.21,119.60 L545.02,118.19 L545.84,116.80 L546.66,115.45 L547.48,114.14 L548.30,112.87 L549.12,111.64 L549.93,110.44 L550.75,109.27 L551.57,108.14 L552.39,107.04 L553.21,105.97 L554.03,104.93 L554.85,103.92 L555.66,102.94 L556.48,101.99 L557.30,101.06 L558.12,100.16 L558.94,99.32 L559.76,98.51 L560.57,97.73 L561.39,96.97 L562.21,96.24 L563.03,95.53 L563.85,94.83 L564.67,94.16 L565.48,93.51 L566.30,92.88 L567.12,92.26 L567.94,91.67 L568.76,91.09 L569.58,90.53 L570.40,89.99 L571.21,89.46 L572.03,88.95 L572.85,88.45 L573.67,87.97 L574.49,87.51 L575.31,87.06 L576.12,86.62 L576.94,86.19 L577.76,85.78 L578.58,85.38 L579.40,85.00 L580.22,84.62 L581.03,84.26 L581.85,83.91 L582.67,83.57 L583.49,83.24 L584.31,82.92 L585.13,82.60 L585.95,82.30 L586.76,82.01 L587.58,81.73 L588.40,81.46 L589.22,81.19 L590.04,80.94 L590.86,80.69 L591.67,80.45 L592.49,80.21 L593.31,79.99 L594.13,79.77 L594.95,79.56 L595.77,79.35 L596.58,79.15 L597.40,78.96 L598.22,78.77 L599.04,78.59 L599.86,78.41 L600.68,78.24 L601.50,78.08 L602.31,77.92 L603.13,77.76 L603.95,77.60 L604.77,77.43 L605.59,77.27 L606.41,77.11 L607.22,76.95 L608.04,76.80 L608.86,76.66 L609.68,76.51 L610.50,76.37 L611.32,76.23 L612.13,76.10 L612.95,75.97 L613.77,75.84 L614.59,75.72 L615.41,75.59 L616.23,75.47 L617.04,75.35 L617.86,75.24 L618.68,75.12 L619.50,75.01 L620.32,74.90 L621.14,74.79 L621.96,74.68 L622.77,74.58 L623.59,74.48 L624.41,74.37 L625.23,74.27 L626.05,74.17 L626.87,74.07 L627.68,73.97 L628.50,73.88 L629.32,73.78 L630.14,73.68 L630.96,73.59 L631.78,73.49 L632.59,73.40 L633.41,73.31 L634.23,73.21 L635.05,73.12 L635.87,73.03 L636.69,72.93 L637.51,72.84 L638.32,72.75 L639.14,72.65 L639.96,72.56 L640.78,72.47 L641.60,72.39 L642.42,72.30 L643.23,72.21 L644.05,72.12 L644.87,72.03 L645.69,71.94 L646.51,71.85 L647.33,71.76 L648.14,71.67 L648.96,71.58 L649.78,71.48 L650.60,71.39 L651.42,71.30 L652.24,71.20 L653.06,71.11 L653.87,71.01 L654.69,70.91 L655.51,70.81 L656.33,70.71 L657.15,70.61 L657.97,70.51 L658.78,70.41 L659.60,70.30 L660.42,70.20 L661.24,70.09 L662.06,69.98 L662.88,69.88 L663.69,69.77 L664.51,69.65 L665.33,69.54 L666.15,69.43 L666.97,69.31 L667.79,69.20 L668.61,69.08 L669.42,68.96 L670.24,68.84 L671.06,68.72 L671.88,68.60 L672.70,68.48 L673.52,68.35 L674.33,68.23 L675.15,68.10 L675.97,67.97 L676.79,67.84 L677.61,67.72 L678.43,67.59 L679.24,67.46 L680.06,67.33 L680.88,67.20 L681.70,67.07 L682.52,66.94 L683.34,66.80 L684.15,66.67 L684.97,66.53 L685.79,66.39 L686.61,66.25 L687.43,66.11 L688.25,65.97 L689.07,65.82 L689.88,65.68 L690.70,65.53 L691.52,65.38 L692.34,65.23 L693.16,65.08 L693.98,64.92 L694.79,64.77 L695.61,64.61 L696.43,64.46 L697.25,64.30 L698.07,64.14 L698.89,63.98 L699.70,63.82 L700.52,63.65 L701.34,63.49 L702.16,63.32 L702.98,63.16 L703.80,62.99 L704.62,62.82 L705.43,62.65 L706.25,62.47 L707.07,62.30 L707.89,62.13 L708.71,61.95 L709.53,61.77 L710.34,61.59 L711.16,61.42 L711.98,61.23 L712.80,61.05 L713.62,60.87 L714.44,60.69 L715.25,60.50 L716.07,60.32 L716.89,60.13 L717.71,59.99 L718.53,59.91 L719.35,59.92 L720.17,59.99 L720.98,60.14 L721.80,60.36 L722.62,60.63 L723.44,60.89 L724.26,61.14 L725.08,61.40 L725.89,61.66 L726.71,61.91 L727.53,62.16 L728.35,62.41 L729.17,62.66 L729.99,62.91 L730.80,63.16 L731.62,63.41 L732.44,63.65 L733.26,63.89 L734.08,64.14 L734.90,64.38 L735.72,64.62 L736.53,64.86 L737.35,65.09 L738.17,65.33 L738.99,65.56 L739.81,65.80 L740.63,66.03 L741.44,66.26 L742.26,66.49 L743.08,66.72 L743.90,66.94 L744.72,67.17 L745.54,67.39 L746.35,67.62 L747.17,67.84 L747.99,68.06 L748.81,68.28 L749.63,68.50 L750.45,68.72 L751.26,68.93 L752.08,69.15 L752.90,69.36 L753.72,69.58 L754.54,69.79 L755.36,70.00 L756.18,70.21 L756.99,70.42 L757.81,70.63 L758.63,70.83 L759.45,71.04 L760.27,71.24 L761.09,71.45 L761.90,71.65 L762.72,71.85 L763.54,72.05 L764.36,72.25 L765.18,72.45 L766.00,72.65 L766.81,72.84 L767.63,73.04 L768.45,73.23 L769.27,73.42 L770.09,73.62 L770.91,73.81 L771.73,74.00 L772.54,74.19 L773.36,74.39 L774.18,74.58 L775.00,74.77 L775.82,74.96 L776.64,75.15 L777.45,75.33 L778.27,75.52 L779.09,75.71" stroke="#000"/>
</g>
<g fill="#5e81b5"><path d="M748.85,66.11h7.0M748.85,75.73h7.0M752.35,66.11V75.73M701.45,65.06h7.0M701.45,74.77h7.0M704.95,65.06V74.77M663.80,64.50h7.0M663.80,74.26h7.0M667.30,64.50V74.26M633.90,65.06h7.0M633.90,74.77h7.0M637.40,65.06V74.77M610.14,67.31h7.0M610.14,76.84h7.0M613.64,67.31V76.84M591.27,71.88h7.0M591.27,81.04h7.0M594.77,71.88V81.04M576.29,78.13h7.0M576.29,86.78h7.0M579.79,78.13V86.78M564.38,86.62h7.0M564.38,94.59h7.0M567.88,86.62V94.59M554.92,96.00h7.0M554.92,103.21h7.0M558.42,96.00V103.21M547.41,105.77h7.0M547.41,112.20h7.0M550.91,105.77V112.20M541.44,115.63h7.0M541.44,121.26h7.0M544.94,115.63V121.26M536.71,124.76h7.0M536.71,129.66h7.0M540.21,124.76V129.66M532.94,133.01h7.0M532.94,137.25h7.0M536.44,133.01V137.25M529.95,140.79h7.0M529.95,144.39h7.0M533.45,140.79V144.39M527.57,148.00h7.0M527.57,151.02h7.0M531.07,148.00V151.02M525.69,154.09h7.0M525.69,156.62h7.0M529.19,154.09V156.62M524.19,159.26h7.0M524.19,161.37h7.0M527.69,159.26V161.37M523.00,164.03h7.0M523.00,165.76h7.0M526.50,164.03V165.76M522.05,168.27h7.0M522.05,169.66h7.0M525.55,168.27V169.66M521.30,170.84h7.0M521.30,172.02h7.0M524.80,170.84V172.02" fill="none" stroke="#5e81b5" stroke-width="2.4"/><circle cx="752.35" cy="70.92" r="1.7"/><circle cx="704.95" cy="69.92" r="1.7"/><circle cx="667.30" cy="69.38" r="1.7"/><circle cx="637.40" cy="69.92" r="1.7"/><circle cx="613.64" cy="72.07" r="1.7"/><circle cx="594.77" cy="76.46" r="1.7"/><circle cx="579.79" cy="82.45" r="1.7"/><circle cx="567.88" cy="90.61" r="1.7"/><circle cx="558.42" cy="99.60" r="1.7"/><circle cx="550.91" cy="108.98" r="1.7"/><circle cx="544.94" cy="118.44" r="1.7"/><circle cx="540.21" cy="127.21" r="1.7"/><circle cx="536.44" cy="135.13" r="1.7"/><circle cx="533.45" cy="142.59" r="1.7"/><circle cx="531.07" cy="149.51" r="1.7"/><circle cx="529.19" cy="155.36" r="1.7"/><circle cx="527.69" cy="160.32" r="1.7"/><circle cx="526.50" cy="164.89" r="1.7"/><circle cx="525.55" cy="168.97" r="1.7"/><circle cx="524.80" cy="171.43" r="1.7"/></g>
<g font-family="Liberation Sans, sans-serif" fill="#000">
<text transform="translate(521.90,207.70) scale(1,1.075)" text-anchor="middle" font-size="19.3">0</text>
<text transform="translate(592.16,207.70) scale(1,1.075)" text-anchor="middle" font-size="19.3">5</text>
<text transform="translate(662.42,207.70) scale(1,1.075)" text-anchor="middle" font-size="19.3">10</text>
<text transform="translate(732.68,207.70) scale(1,1.075)" text-anchor="middle" font-size="19.3">15</text>
<text transform="translate(517.30,192.70) scale(1,1.075)" text-anchor="end" font-size="19.3">0</text>
<text transform="translate(517.30,154.25) scale(1,1.075)" text-anchor="end" font-size="19.3">50</text>
<text transform="translate(517.30,115.80) scale(1,1.075)" text-anchor="end" font-size="19.3">100</text>
<text transform="translate(517.30,77.35) scale(1,1.075)" text-anchor="end" font-size="19.3">150</text>
<text transform="translate(517.30,38.90) scale(1,1.075)" text-anchor="end" font-size="19.3">200</text>
<text transform="translate(646.75,238.50) scale(1,1.045)" text-anchor="middle" font-size="19.0">r [kpc]</text>
<text transform="translate(471.40,108.60) rotate(-90) scale(1,1.045)" text-anchor="middle" font-size="19.0">v [km/s]</text>
</g>
<clipPath id="c2"><rect x="93.1" y="296.2" width="250.30" height="154.70"/></clipPath>
<g stroke="#7a7a7a" stroke-width="1" fill="none">
<rect x="93.6" y="296.7" width="249.30" height="153.70"/>
<path d="M93.60,450.4v-4.0M93.60,296.7v4.0M102.65,450.4v-2.5M102.65,296.7v2.5M111.70,450.4v-2.5M111.70,296.7v2.5M120.75,450.4v-2.5M120.75,296.7v2.5M129.80,450.4v-2.5M129.80,296.7v2.5M138.85,450.4v-4.0M138.85,296.7v4.0M147.90,450.4v-2.5M147.90,296.7v2.5M156.95,450.4v-2.5M156.95,296.7v2.5M166.00,450.4v-2.5M166.00,296.7v2.5M175.05,450.4v-2.5M175.05,296.7v2.5M184.10,450.4v-4.0M184.10,296.7v4.0M193.15,450.4v-2.5M193.15,296.7v2.5M202.20,450.4v-2.5M202.20,296.7v2.5M211.25,450.4v-2.5M211.25,296.7v2.5M220.30,450.4v-2.5M220.30,296.7v2.5M229.35,450.4v-4.0M229.35,296.7v4.0M238.40,450.4v-2.5M238.40,296.7v2.5M247.45,450.4v-2.5M247.45,296.7v2.5M256.50,450.4v-2.5M256.50,296.7v2.5M265.55,450.4v-2.5M265.55,296.7v2.5M274.60,450.4v-4.0M274.60,296.7v4.0M283.65,450.4v-2.5M283.65,296.7v2.5M292.70,450.4v-2.5M292.70,296.7v2.5M301.75,450.4v-2.5M301.75,296.7v2.5M310.80,450.4v-2.5M310.80,296.7v2.5M319.85,450.4v-4.0M319.85,296.7v4.0M328.90,450.4v-2.5M328.90,296.7v2.5M337.95,450.4v-2.5M337.95,296.7v2.5M93.6,450.40h4.0M342.9,450.40h-4.0M93.6,444.48h2.5M342.9,444.48h-2.5M93.6,438.56h2.5M342.9,438.56h-2.5M93.6,432.64h2.5M342.9,432.64h-2.5M93.6,426.73h2.5M342.9,426.73h-2.5M93.6,420.81h4.0M342.9,420.81h-4.0M93.6,414.89h2.5M342.9,414.89h-2.5M93.6,408.97h2.5M342.9,408.97h-2.5M93.6,403.05h2.5M342.9,403.05h-2.5M93.6,397.13h2.5M342.9,397.13h-2.5M93.6,391.22h4.0M342.9,391.22h-4.0M93.6,385.30h2.5M342.9,385.30h-2.5M93.6,379.38h2.5M342.9,379.38h-2.5M93.6,373.46h2.5M342.9,373.46h-2.5M93.6,367.54h2.5M342.9,367.54h-2.5M93.6,361.62h4.0M342.9,361.62h-4.0M93.6,355.71h2.5M342.9,355.71h-2.5M93.6,349.79h2.5M342.9,349.79h-2.5M93.6,343.87h2.5M342.9,343.87h-2.5M93.6,337.95h2.5M342.9,337.95h-2.5M93.6,332.03h4.0M342.9,332.03h-4.0M93.6,326.11h2.5M342.9,326.11h-2.5M93.6,320.20h2.5M342.9,320.20h-2.5M93.6,314.28h2.5M342.9,314.28h-2.5M93.6,308.36h2.5M342.9,308.36h-2.5M93.6,302.44h4.0M342.9,302.44h-4.0"/>
</g>
<g clip-path="url(#c2)" fill="none" stroke-linejoin="round" stroke-linecap="butt" stroke-width="3.2">
<path d="M94.50,444.04 L94.64,443.22 L94.85,441.99 L95.05,440.80 L95.26,439.63 L95.47,438.49 L95.68,437.38 L95.89,436.29 L96.09,435.23 L96.30,434.18 L96.51,433.15 L96.72,432.14 L96.92,431.14 L97.13,430.17 L97.34,429.20 L97.55,428.25 L97.75,427.32 L97.96,426.39 L98.17,425.49 L98.38,424.59 L98.59,423.70 L98.79,422.83 L99.00,421.97 L99.21,421.11 L99.42,420.27 L99.62,419.44 L99.83,418.62 L100.04,417.81 L100.25,417.00 L100.46,416.21 L100.66,415.42 L100.87,414.65 L101.08,413.88 L101.29,413.12 L101.49,412.37 L101.70,411.63 L101.91,410.89 L102.12,410.16 L102.33,409.44 L102.53,408.73 L102.74,408.02 L102.95,407.33 L103.16,406.63 L103.36,405.95 L103.57,405.27 L103.78,404.60 L103.99,403.93 L104.20,403.27 L104.40,402.62 L104.61,401.98 L104.82,401.34 L105.03,400.70 L105.23,400.07 L105.44,399.45 L105.65,398.83 L105.86,398.22 L106.06,397.62 L106.88,395.29 L107.70,393.04 L108.52,390.87 L109.33,388.77 L110.15,386.74 L110.97,384.78 L111.78,382.89 L112.60,381.05 L113.42,379.28 L114.24,377.56 L115.05,375.89 L115.87,374.28 L116.69,372.73 L117.50,371.22 L118.32,369.75 L119.14,368.34 L119.96,366.97 L120.77,365.64 L121.59,364.36 L122.41,363.11 L123.22,361.91 L124.04,360.74 L124.86,359.61 L125.68,358.52 L126.49,357.46 L127.31,356.44 L128.13,355.45 L128.94,354.50 L129.76,353.57 L130.58,352.67 L131.40,351.81 L132.21,350.97 L133.03,350.16 L133.85,349.38 L134.66,348.63 L135.48,347.90 L136.30,347.20 L137.11,346.52 L137.93,345.87 L138.75,345.24 L139.57,344.63 L140.38,344.05 L141.20,343.49 L142.02,342.95 L142.83,342.43 L143.65,341.93 L144.47,341.45 L145.29,340.99 L146.10,340.54 L146.92,340.12 L147.74,339.71 L148.55,339.32 L149.37,338.95 L150.19,338.60 L151.01,338.26 L151.82,337.94 L152.64,337.63 L153.46,337.34 L154.27,337.06 L155.09,336.80 L155.91,336.55 L156.73,336.31 L157.54,336.09 L158.36,335.88 L159.18,335.68 L159.99,335.50 L160.81,335.33 L161.63,335.16 L162.45,335.02 L163.26,334.88 L164.08,334.75 L164.90,334.64 L165.71,334.53 L166.53,334.43 L167.35,334.35 L168.16,334.27 L168.98,334.21 L169.80,334.15 L170.62,334.10 L171.43,334.06 L172.25,334.03 L173.07,334.01 L173.88,333.99 L174.70,333.99 L175.52,333.99 L176.34,334.00 L177.15,334.01 L177.97,334.02 L178.79,334.02 L179.60,334.03 L180.42,334.05 L181.24,334.07 L182.06,334.10 L182.87,334.14 L183.69,334.18 L184.51,334.23 L185.32,334.29 L186.14,334.34 L186.96,334.41 L187.78,334.48 L188.59,334.55 L189.41,334.63 L190.23,334.72 L191.04,334.81 L191.86,334.90 L192.68,335.00 L193.50,335.10 L194.31,335.21 L195.13,335.32 L195.95,335.43 L196.76,335.55 L197.58,335.67 L198.40,335.80 L199.21,335.93 L200.03,336.06 L200.85,336.23 L201.67,336.39 L202.48,336.56 L203.30,336.73 L204.12,336.90 L204.93,337.08 L205.75,337.26 L206.57,337.44 L207.39,337.62 L208.20,337.81 L209.02,338.00 L209.84,338.19 L210.65,338.38 L211.47,338.58 L212.29,338.78 L213.11,338.98 L213.92,339.18 L214.74,339.38 L215.56,339.58 L216.37,339.79 L217.19,340.00 L218.01,340.21 L218.83,340.42 L219.64,340.63 L220.46,340.85 L221.28,341.06 L222.09,341.28 L222.91,341.50 L223.73,341.72 L224.55,341.94 L225.36,342.16 L226.18,342.38 L227.00,342.60 L227.81,342.83 L228.63,343.05 L229.45,343.28 L230.26,343.50 L231.08,343.73 L231.90,343.96 L232.72,344.19 L233.53,344.42 L234.35,344.64 L235.17,344.87 L235.98,345.10 L236.80,345.34 L237.62,345.57 L238.44,345.80 L239.25,346.03 L240.07,346.26 L240.89,346.49 L241.70,346.73 L242.52,346.96 L243.34,347.19 L244.16,347.42 L244.97,347.66 L245.79,347.89 L246.61,348.12 L247.42,348.36 L248.24,348.59 L249.06,348.82 L249.88,349.05 L250.69,349.29 L251.51,349.52 L252.33,349.75 L253.14,349.98 L253.96,350.21 L254.78,350.45 L255.59,350.68 L256.41,350.91 L257.23,351.14 L258.05,351.37 L258.86,351.60 L259.68,351.83 L260.50,352.06 L261.31,352.29 L262.13,352.52 L262.95,352.74 L263.77,352.97 L264.58,353.20 L265.40,353.42 L266.22,353.63 L267.03,353.85 L267.85,354.06 L268.67,354.28 L269.49,354.49 L270.30,354.70 L271.12,354.92 L271.94,355.13 L272.75,355.34 L273.57,355.55 L274.39,355.76 L275.21,355.97 L276.02,356.18 L276.84,356.39 L277.66,356.60 L278.47,356.80 L279.29,357.01 L280.11,357.22 L280.93,357.42 L281.74,357.62 L282.56,357.83 L283.38,358.03 L284.19,358.23 L285.01,358.43 L285.83,358.63 L286.64,358.83 L287.46,359.03 L288.28,359.23 L289.10,359.43 L289.91,359.63 L290.73,359.82 L291.55,360.02 L292.36,360.22 L293.18,360.41 L294.00,360.60 L294.82,360.80 L295.63,360.99 L296.45,361.18 L297.27,361.37 L298.08,361.56 L298.90,361.75 L299.72,361.94 L300.54,362.12 L301.35,362.31 L302.17,362.50 L302.99,362.68 L303.80,362.87 L304.62,363.05 L305.44,363.23 L306.26,363.41 L307.07,363.59 L307.89,363.77 L308.71,363.95 L309.52,364.13 L310.34,364.31 L311.16,364.48 L311.98,364.66 L312.79,364.84 L313.61,365.01 L314.43,365.18 L315.24,365.36 L316.06,365.53 L316.88,365.70 L317.69,365.87 L318.51,366.04 L319.33,366.21 L320.15,366.37 L320.96,366.54 L321.78,366.71 L322.60,366.87 L323.41,367.04 L324.23,367.20 L325.05,367.36 L325.87,367.52 L326.68,367.69 L327.50,367.85 L328.32,368.00 L329.13,368.16 L329.95,368.32 L330.77,368.48 L331.59,368.63 L332.40,368.79 L333.22,368.95 L334.04,369.10 L334.85,369.25 L335.67,369.40 L336.49,369.56 L337.31,369.71 L338.12,369.86 L338.94,370.01 L339.76,370.15 L340.57,370.30 L341.39,370.45 L342.21,370.60 L343.03,370.74 L343.84,370.89 L344.66,371.05 L345.48,371.20 L346.29,371.35 L347.11,371.50 L347.93,371.65 L348.74,371.80 L349.56,371.95 L350.38,372.10" stroke="#ff0000"/>
<path d="M93.60,450.40 L93.81,450.30 L94.02,450.21 L94.22,450.11 L94.43,450.01 L94.50,449.98 L94.64,449.91 L94.85,449.82 L95.05,449.72 L95.26,449.62 L95.47,449.52 L95.68,449.43 L95.89,449.33 L96.09,449.23 L96.30,449.13 L96.51,449.04 L96.72,448.94 L96.92,448.84 L97.13,448.74 L97.34,448.65 L97.55,448.55 L97.75,448.45 L97.96,448.35 L98.17,448.26 L98.38,448.16 L98.59,448.06 L98.79,447.96 L99.00,447.87 L99.21,447.77 L99.42,447.67 L99.62,447.57 L99.83,447.48 L100.04,447.38 L100.25,447.28 L100.46,447.18 L100.66,447.09 L100.87,446.99 L101.08,446.89 L101.29,446.79 L101.49,446.70 L101.70,446.60 L101.91,446.50 L102.12,446.40 L102.33,446.31 L102.53,446.21 L102.74,446.11 L102.95,446.01 L103.16,445.92 L103.36,445.82 L103.57,445.72 L103.78,445.62 L103.99,445.53 L104.20,445.43 L104.40,445.33 L104.61,445.23 L104.82,445.14 L105.03,445.04 L105.23,444.94 L105.44,444.84 L105.65,444.75 L105.86,444.65 L106.06,444.55 L106.88,444.17 L107.70,443.78 L108.52,443.40 L109.33,443.02 L110.15,442.63 L110.97,442.25 L111.78,441.87 L112.60,441.48 L113.42,441.10 L114.24,440.72 L115.05,440.33 L115.87,439.95 L116.69,439.57 L117.50,439.18 L118.32,438.80 L119.14,438.42 L119.96,438.03 L120.77,437.65 L121.59,437.27 L122.41,436.88 L123.22,436.50 L124.04,436.12 L124.86,435.73 L125.68,435.35 L126.49,434.97 L127.31,434.58 L128.13,434.20 L128.94,433.82 L129.76,433.43 L130.58,433.05 L131.40,432.67 L132.21,432.28 L133.03,431.90 L133.85,431.52 L134.66,431.13 L135.48,430.75 L136.30,430.37 L137.11,429.98 L137.93,429.60 L138.75,429.22 L139.57,428.84 L140.38,428.45 L141.20,428.07 L142.02,427.69 L142.83,427.30 L143.65,426.92 L144.47,426.54 L145.29,426.15 L146.10,425.77 L146.92,425.39 L147.74,425.00 L148.55,424.62 L149.37,424.24 L150.19,423.86 L151.01,423.47 L151.82,423.09 L152.64,422.71 L153.46,422.32 L154.27,421.94 L155.09,421.56 L155.91,421.18 L156.73,420.79 L157.54,420.41 L158.36,420.03 L159.18,419.65 L159.99,419.26 L160.81,418.88 L161.63,418.50 L162.45,418.11 L163.26,417.73 L164.08,417.35 L164.90,416.97 L165.71,416.59 L166.53,416.20 L167.35,415.82 L168.16,415.44 L168.98,415.06 L169.80,414.67 L170.62,414.29 L171.43,413.91 L172.25,413.53 L173.07,413.15 L173.88,412.76 L174.70,412.38 L175.52,412.00 L176.34,411.62 L177.15,411.24 L177.97,410.85 L178.79,410.47 L179.60,410.09 L180.42,409.71 L181.24,409.33 L182.06,408.95 L182.87,408.56 L183.69,408.18 L184.51,407.80 L185.32,407.42 L186.14,407.04 L186.96,406.66 L187.78,406.28 L188.59,405.89 L189.41,405.51 L190.23,405.13 L191.04,404.75 L191.86,404.37 L192.68,403.99 L193.50,403.61 L194.31,403.23 L195.13,402.85 L195.95,402.47 L196.76,402.09 L197.58,401.71 L198.40,401.33 L199.21,400.95 L200.03,400.57 L200.85,400.19 L201.67,399.81 L202.48,399.43 L203.30,399.05 L204.12,398.67 L204.93,398.29 L205.75,397.91 L206.57,397.53 L207.39,397.15 L208.20,396.77 L209.02,396.39 L209.84,396.01 L210.65,395.63 L211.47,395.25 L212.29,394.87 L213.11,394.49 L213.92,394.11 L214.74,393.74 L215.56,393.36 L216.37,392.98 L217.19,392.60 L218.01,392.22 L218.83,391.84 L219.64,391.47 L220.46,391.09 L221.28,390.71 L222.09,390.33 L222.91,389.95 L223.73,389.58 L224.55,389.20 L225.36,388.82 L226.18,388.44 L227.00,388.07 L227.81,387.69 L228.63,387.31 L229.45,386.94 L230.26,386.56 L231.08,386.18 L231.90,385.81 L232.72,385.43 L233.53,385.06 L234.35,384.68 L235.17,384.30 L235.98,383.93 L236.80,383.55 L237.62,383.18 L238.44,382.80 L239.25,382.43 L240.07,382.05 L240.89,381.68 L241.70,381.30 L242.52,380.93 L243.34,380.55 L244.16,380.18 L244.97,379.80 L245.79,379.43 L246.61,379.06 L247.42,378.68 L248.24,378.31 L249.06,377.94 L249.88,377.56 L250.69,377.19 L251.51,376.82 L252.33,376.44 L253.14,376.07 L253.96,375.70 L254.78,375.33 L255.59,374.95 L256.41,374.58 L257.23,374.21 L258.05,373.84 L258.86,373.47 L259.68,373.10 L260.50,372.73 L261.31,372.35 L262.13,371.98 L262.95,371.61 L263.77,371.24 L264.58,370.87 L265.40,370.50 L266.22,370.13 L267.03,369.76 L267.85,369.39 L268.67,369.03 L269.49,368.66 L270.30,368.29 L271.12,367.92 L271.94,367.55 L272.75,367.18 L273.57,366.82 L274.39,366.45 L275.21,366.08 L276.02,365.71 L276.84,365.35 L277.66,364.98 L278.47,364.61 L279.29,364.25 L280.11,363.88 L280.93,363.51 L281.74,363.15 L282.56,362.78 L283.38,362.42 L284.19,362.05 L285.01,361.69 L285.83,361.32 L286.64,360.97 L287.46,360.70 L288.28,360.52 L289.10,360.43 L289.91,360.43 L290.73,360.52 L291.55,360.69 L292.36,360.87 L293.18,361.05 L294.00,361.24 L294.82,361.42 L295.63,361.60 L296.45,361.78 L297.27,361.95 L298.08,362.13 L298.90,362.31 L299.72,362.48 L300.54,362.66 L301.35,362.83 L302.17,363.00 L302.99,363.17 L303.80,363.34 L304.62,363.51 L305.44,363.68 L306.26,363.84 L307.07,364.01 L307.89,364.17 L308.71,364.34 L309.52,364.50 L310.34,364.66 L311.16,364.82 L311.98,364.98 L312.79,365.14 L313.61,365.30 L314.43,365.46 L315.24,365.62 L316.06,365.77 L316.88,365.93 L317.69,366.08 L318.51,366.23 L319.33,366.39 L320.15,366.54 L320.96,366.69 L321.78,366.84 L322.60,366.99 L323.41,367.14 L324.23,367.29 L325.05,367.43 L325.87,367.58 L326.68,367.72 L327.50,367.87 L328.32,368.01 L329.13,368.15 L329.95,368.30 L330.77,368.44 L331.59,368.58 L332.40,368.72 L333.22,368.86 L334.04,369.00 L334.85,369.14 L335.67,369.27 L336.49,369.41 L337.31,369.55 L338.12,369.68 L338.94,369.81 L339.76,369.95 L340.57,370.08 L341.39,370.21 L342.21,370.35 L343.03,370.48 L343.84,370.61 L344.66,370.74 L345.48,370.87 L346.29,371.00 L347.11,371.12 L347.93,371.25 L348.74,371.38 L349.56,371.50 L350.38,371.63" stroke="#0000ff"/>
<path d="M94.50,444.03 L94.64,443.21 L94.85,441.97 L95.05,440.77 L95.26,439.60 L95.47,438.46 L95.68,437.35 L95.89,436.25 L96.09,435.18 L96.30,434.13 L96.51,433.10 L96.72,432.08 L96.92,431.08 L97.13,430.10 L97.34,429.13 L97.55,428.18 L97.75,427.23 L97.96,426.31 L98.17,425.39 L98.38,424.49 L98.59,423.60 L98.79,422.72 L99.00,421.85 L99.21,421.00 L99.42,420.15 L99.62,419.31 L99.83,418.48 L100.04,417.67 L100.25,416.86 L100.46,416.06 L100.66,415.27 L100.87,414.49 L101.08,413.71 L101.29,412.95 L101.49,412.19 L101.70,411.44 L101.91,410.70 L102.12,409.97 L102.33,409.24 L102.53,408.52 L102.74,407.81 L102.95,407.10 L103.16,406.40 L103.36,405.71 L103.57,405.03 L103.78,404.35 L103.99,403.68 L104.20,403.01 L104.40,402.35 L104.61,401.70 L104.82,401.05 L105.03,400.41 L105.23,399.78 L105.44,399.15 L105.65,398.52 L105.86,397.91 L106.06,397.29 L106.88,394.94 L107.70,392.66 L108.52,390.46 L109.33,388.33 L110.15,386.27 L110.97,384.28 L111.78,382.35 L112.60,380.48 L113.42,378.67 L114.24,376.92 L115.05,375.22 L115.87,373.57 L116.69,371.97 L117.50,370.43 L118.32,368.92 L119.14,367.47 L119.96,366.06 L120.77,364.69 L121.59,363.36 L122.41,362.07 L123.22,360.82 L124.04,359.61 L124.86,358.44 L125.68,357.30 L126.49,356.19 L127.31,355.12 L128.13,354.08 L128.94,353.07 L129.76,352.09 L130.58,351.15 L131.40,350.23 L132.21,349.34 L133.03,348.47 L133.85,347.63 L134.66,346.82 L135.48,346.04 L136.30,345.27 L137.11,344.54 L137.93,343.82 L138.75,343.13 L139.57,342.46 L140.38,341.81 L141.20,341.18 L142.02,340.57 L142.83,339.98 L143.65,339.41 L144.47,338.86 L145.29,338.33 L146.10,337.82 L146.92,337.32 L147.74,336.84 L148.55,336.37 L149.37,335.92 L150.19,335.49 L151.01,335.07 L151.82,334.67 L152.64,334.28 L153.46,333.90 L154.27,333.54 L155.09,333.19 L155.91,332.86 L156.73,332.53 L157.54,332.22 L158.36,331.92 L159.18,331.63 L159.99,331.35 L160.81,331.09 L161.63,330.83 L162.45,330.58 L163.26,330.35 L164.08,330.12 L164.90,329.90 L165.71,329.70 L166.53,329.50 L167.35,329.31 L168.16,329.12 L168.98,328.95 L169.80,328.78 L170.62,328.62 L171.43,328.47 L172.25,328.33 L173.07,328.19 L173.88,328.06 L174.70,327.94 L175.52,327.82 L176.34,327.71 L177.15,327.60 L177.97,327.48 L178.79,327.36 L179.60,327.25 L180.42,327.14 L181.24,327.04 L182.06,326.94 L182.87,326.84 L183.69,326.75 L184.51,326.67 L185.32,326.59 L186.14,326.51 L186.96,326.44 L187.78,326.37 L188.59,326.30 L189.41,326.24 L190.23,326.18 L191.04,326.12 L191.86,326.07 L192.68,326.02 L193.50,325.97 L194.31,325.92 L195.13,325.88 L195.95,325.84 L196.76,325.80 L197.58,325.77 L198.40,325.73 L199.21,325.70 L200.03,325.68 L200.85,325.67 L201.67,325.67 L202.48,325.67 L203.30,325.67 L204.12,325.67 L204.93,325.67 L205.75,325.67 L206.57,325.68 L207.39,325.68 L208.20,325.69 L209.02,325.69 L209.84,325.70 L210.65,325.71 L211.47,325.72 L212.29,325.73 L213.11,325.74 L213.92,325.75 L214.74,325.76 L215.56,325.76 L216.37,325.77 L217.19,325.78 L218.01,325.79 L218.83,325.80 L219.64,325.81 L220.46,325.82 L221.28,325.83 L222.09,325.84 L222.91,325.85 L223.73,325.85 L224.55,325.86 L225.36,325.87 L226.18,325.87 L227.00,325.88 L227.81,325.88 L228.63,325.89 L229.45,325.89 L230.26,325.89 L231.08,325.89 L231.90,325.89 L232.72,325.89 L233.53,325.89 L234.35,325.89 L235.17,325.88 L235.98,325.88 L236.80,325.87 L237.62,325.86 L238.44,325.86 L239.25,325.85 L240.07,325.84 L240.89,325.82 L241.70,325.81 L242.52,325.79 L243.34,325.78 L244.16,325.76 L244.97,325.74 L245.79,325.72 L246.61,325.70 L247.42,325.67 L248.24,325.65 L249.06,325.62 L249.88,325.59 L250.69,325.56 L251.51,325.53 L252.33,325.50 L253.14,325.47 L253.96,325.43 L254.78,325.39 L255.59,325.35 L256.41,325.31 L257.23,325.27 L258.05,325.23 L258.86,325.18 L259.68,325.13 L260.50,325.08 L261.31,325.03 L262.13,324.98 L262.95,324.92 L263.77,324.87 L264.58,324.81 L265.40,324.75 L266.22,324.68 L267.03,324.61 L267.85,324.53 L268.67,324.46 L269.49,324.38 L270.30,324.30 L271.12,324.23 L271.94,324.14 L272.75,324.06 L273.57,323.98 L274.39,323.89 L275.21,323.80 L276.02,323.71 L276.84,323.62 L277.66,323.53 L278.47,323.44 L279.29,323.34 L280.11,323.24 L280.93,323.14 L281.74,323.04 L282.56,322.94 L283.38,322.83 L284.19,322.73 L285.01,322.62 L285.83,322.51 L286.64,322.41 L287.46,322.36 L288.28,322.38 L289.10,322.45 L289.91,322.59 L290.73,322.79 L291.55,323.05 L292.36,323.32 L293.18,323.59 L294.00,323.86 L294.82,324.12 L295.63,324.38 L296.45,324.64 L297.27,324.91 L298.08,325.16 L298.90,325.42 L299.72,325.68 L300.54,325.93 L301.35,326.19 L302.17,326.44 L302.99,326.69 L303.80,326.94 L304.62,327.19 L305.44,327.44 L306.26,327.69 L307.07,327.93 L307.89,328.17 L308.71,328.42 L309.52,328.66 L310.34,328.90 L311.16,329.14 L311.98,329.38 L312.79,329.61 L313.61,329.85 L314.43,330.08 L315.24,330.31 L316.06,330.55 L316.88,330.78 L317.69,331.00 L318.51,331.23 L319.33,331.46 L320.15,331.69 L320.96,331.91 L321.78,332.13 L322.60,332.36 L323.41,332.58 L324.23,332.80 L325.05,333.02 L325.87,333.23 L326.68,333.45 L327.50,333.67 L328.32,333.88 L329.13,334.09 L329.95,334.31 L330.77,334.52 L331.59,334.73 L332.40,334.94 L333.22,335.14 L334.04,335.35 L334.85,335.56 L335.67,335.76 L336.49,335.97 L337.31,336.17 L338.12,336.37 L338.94,336.57 L339.76,336.77 L340.57,336.97 L341.39,337.17 L342.21,337.36 L343.03,337.56 L343.84,337.76 L344.66,337.96 L345.48,338.16 L346.29,338.36 L347.11,338.55 L347.93,338.75 L348.74,338.95 L349.56,339.14 L350.38,339.33" stroke="#000"/>
</g>
<g fill="#5e81b5"><path d="M306.85,323.91h7.0M306.85,333.64h7.0M310.35,323.91V333.64M262.27,321.45h7.0M262.27,331.37h7.0M265.77,321.45V331.37M226.86,318.93h7.0M226.86,329.04h7.0M230.36,318.93V329.04M198.73,317.63h7.0M198.73,327.85h7.0M202.23,317.63V327.85M176.39,319.05h7.0M176.39,329.15h7.0M179.89,319.05V329.15M158.64,323.24h7.0M158.64,333.02h7.0M162.14,323.24V333.02M144.54,330.38h7.0M144.54,339.61h7.0M148.04,330.38V339.61M133.35,339.61h7.0M133.35,348.13h7.0M136.85,339.61V348.13M124.45,350.07h7.0M124.45,357.79h7.0M127.95,350.07V357.79M117.39,360.78h7.0M117.39,367.68h7.0M120.89,360.78V367.68M111.77,372.05h7.0M111.77,378.08h7.0M115.27,372.05V378.08M107.32,382.32h7.0M107.32,387.56h7.0M110.82,382.32V387.56M103.78,391.88h7.0M103.78,396.39h7.0M107.28,391.88V396.39M100.96,400.54h7.0M100.96,404.38h7.0M104.46,400.54V404.38M98.73,408.25h7.0M98.73,411.49h7.0M102.23,408.25V411.49M96.95,415.00h7.0M96.95,417.72h7.0M100.45,415.00V417.72M95.54,420.83h7.0M95.54,423.11h7.0M99.04,420.83V423.11M94.42,425.83h7.0M94.42,427.72h7.0M97.92,425.83V427.72M93.54,430.07h7.0M93.54,431.63h7.0M97.04,430.07V431.63M92.83,433.64h7.0M92.83,434.93h7.0M96.33,433.64V434.93" fill="none" stroke="#5e81b5" stroke-width="2.4"/><circle cx="310.35" cy="328.78" r="1.7"/><circle cx="265.77" cy="326.41" r="1.7"/><circle cx="230.36" cy="323.98" r="1.7"/><circle cx="202.23" cy="322.74" r="1.7"/><circle cx="179.89" cy="324.10" r="1.7"/><circle cx="162.14" cy="328.13" r="1.7"/><circle cx="148.04" cy="334.99" r="1.7"/><circle cx="136.85" cy="343.87" r="1.7"/><circle cx="127.95" cy="353.93" r="1.7"/><circle cx="120.89" cy="364.23" r="1.7"/><circle cx="115.27" cy="375.07" r="1.7"/><circle cx="110.82" cy="384.94" r="1.7"/><circle cx="107.28" cy="394.14" r="1.7"/><circle cx="104.46" cy="402.46" r="1.7"/><circle cx="102.23" cy="409.87" r="1.7"/><circle cx="100.45" cy="416.36" r="1.7"/><circle cx="99.04" cy="421.97" r="1.7"/><circle cx="97.92" cy="426.77" r="1.7"/><circle cx="97.04" cy="430.85" r="1.7"/><circle cx="96.33" cy="434.29" r="1.7"/></g>
<g font-family="Liberation Sans, sans-serif" fill="#000">
<text transform="translate(93.60,472.60) scale(1,1.075)" text-anchor="middle" font-size="19.3">0</text>
<text transform="translate(138.85,472.60) scale(1,1.075)" text-anchor="middle" font-size="19.3">5</text>
<text transform="translate(184.10,472.60) scale(1,1.075)" text-anchor="middle" font-size="19.3">10</text>
<text transform="translate(229.35,472.60) scale(1,1.075)" text-anchor="middle" font-size="19.3">15</text>
<text transform="translate(274.60,472.60) scale(1,1.075)" text-anchor="middle" font-size="19.3">20</text>
<text transform="translate(319.85,472.60) scale(1,1.075)" text-anchor="middle" font-size="19.3">25</text>
<text transform="translate(89.00,457.60) scale(1,1.075)" text-anchor="end" font-size="19.3">0</text>
<text transform="translate(89.00,428.01) scale(1,1.075)" text-anchor="end" font-size="19.3">50</text>
<text transform="translate(89.00,398.42) scale(1,1.075)" text-anchor="end" font-size="19.3">100</text>
<text transform="translate(89.00,368.82) scale(1,1.075)" text-anchor="end" font-size="19.3">150</text>
<text transform="translate(89.00,339.23) scale(1,1.075)" text-anchor="end" font-size="19.3">200</text>
<text transform="translate(89.00,309.64) scale(1,1.075)" text-anchor="end" font-size="19.3">250</text>
<text transform="translate(218.25,503.40) scale(1,1.045)" text-anchor="middle" font-size="19.0">r [kpc]</text>
<text transform="translate(43.10,373.55) rotate(-90) scale(1,1.045)" text-anchor="middle" font-size="19.0">v [km/s]</text>
</g>
<clipPath id="c3"><rect x="521.4" y="296.2" width="250.70" height="154.70"/></clipPath>
<g stroke="#7a7a7a" stroke-width="1" fill="none">
<rect x="521.9" y="296.7" width="249.70" height="153.70"/>
<path d="M521.90,450.4v-4.0M521.90,296.7v4.0M533.63,450.4v-2.5M533.63,296.7v2.5M545.36,450.4v-2.5M545.36,296.7v2.5M557.09,450.4v-2.5M557.09,296.7v2.5M568.83,450.4v-2.5M568.83,296.7v2.5M580.56,450.4v-4.0M580.56,296.7v4.0M592.29,450.4v-2.5M592.29,296.7v2.5M604.02,450.4v-2.5M604.02,296.7v2.5M615.75,450.4v-2.5M615.75,296.7v2.5M627.48,450.4v-2.5M627.48,296.7v2.5M639.21,450.4v-4.0M639.21,296.7v4.0M650.94,450.4v-2.5M650.94,296.7v2.5M662.68,450.4v-2.5M662.68,296.7v2.5M674.41,450.4v-2.5M674.41,296.7v2.5M686.14,450.4v-2.5M686.14,296.7v2.5M697.87,450.4v-4.0M697.87,296.7v4.0M709.60,450.4v-2.5M709.60,296.7v2.5M721.33,450.4v-2.5M721.33,296.7v2.5M733.06,450.4v-2.5M733.06,296.7v2.5M744.79,450.4v-2.5M744.79,296.7v2.5M756.53,450.4v-4.0M756.53,296.7v4.0M768.26,450.4v-2.5M768.26,296.7v2.5M521.9,450.40h4.0M771.6,450.40h-4.0M521.9,445.28h2.5M771.6,445.28h-2.5M521.9,440.15h2.5M771.6,440.15h-2.5M521.9,435.03h2.5M771.6,435.03h-2.5M521.9,429.91h2.5M771.6,429.91h-2.5M521.9,424.78h4.0M771.6,424.78h-4.0M521.9,419.66h2.5M771.6,419.66h-2.5M521.9,414.54h2.5M771.6,414.54h-2.5M521.9,409.41h2.5M771.6,409.41h-2.5M521.9,404.29h2.5M771.6,404.29h-2.5M521.9,399.17h4.0M771.6,399.17h-4.0M521.9,394.04h2.5M771.6,394.04h-2.5M521.9,388.92h2.5M771.6,388.92h-2.5M521.9,383.80h2.5M771.6,383.80h-2.5M521.9,378.67h2.5M771.6,378.67h-2.5M521.9,373.55h4.0M771.6,373.55h-4.0M521.9,368.43h2.5M771.6,368.43h-2.5M521.9,363.30h2.5M771.6,363.30h-2.5M521.9,358.18h2.5M771.6,358.18h-2.5M521.9,353.06h2.5M771.6,353.06h-2.5M521.9,347.93h4.0M771.6,347.93h-4.0M521.9,342.81h2.5M771.6,342.81h-2.5M521.9,337.69h2.5M771.6,337.69h-2.5M521.9,332.56h2.5M771.6,332.56h-2.5M521.9,327.44h2.5M771.6,327.44h-2.5M521.9,322.32h4.0M771.6,322.32h-4.0M521.9,317.19h2.5M771.6,317.19h-2.5M521.9,312.07h2.5M771.6,312.07h-2.5M521.9,306.95h2.5M771.6,306.95h-2.5M521.9,301.82h2.5M771.6,301.82h-2.5M521.9,296.70h4.0M771.6,296.70h-4.0"/>
</g>
<g clip-path="url(#c3)" fill="none" stroke-linejoin="round" stroke-linecap="butt" stroke-width="3.2">
<path d="M522.49,445.36 L522.52,445.07 L522.73,443.54 L522.94,442.07 L523.15,440.65 L523.36,439.27 L523.56,437.92 L523.77,436.62 L523.98,435.34 L524.19,434.09 L524.40,432.86 L524.61,431.64 L524.81,430.42 L525.02,429.23 L525.23,428.06 L525.44,426.90 L525.65,425.76 L525.85,424.64 L526.06,423.54 L526.27,422.45 L526.48,421.38 L526.69,420.32 L526.89,419.28 L527.10,418.25 L527.31,417.23 L527.52,416.23 L527.73,415.24 L527.93,414.26 L528.14,413.29 L528.35,412.33 L528.56,411.39 L528.77,410.45 L528.97,409.53 L529.18,408.61 L529.39,407.71 L529.60,406.81 L529.81,405.93 L530.02,405.05 L530.22,404.19 L530.43,403.33 L530.64,402.48 L530.85,401.65 L531.06,400.82 L531.26,400.00 L531.47,399.18 L531.68,398.38 L531.89,397.58 L532.10,396.79 L532.30,396.01 L532.51,395.24 L532.72,394.47 L532.93,393.71 L533.14,392.96 L533.34,392.22 L533.55,391.48 L533.76,390.75 L533.97,390.03 L534.18,389.31 L534.38,388.61 L535.20,385.86 L536.02,383.20 L536.84,380.64 L537.66,378.16 L538.48,375.76 L539.30,373.45 L540.11,371.21 L540.93,369.04 L541.75,366.95 L542.57,364.92 L543.39,362.91 L544.21,360.96 L545.02,359.07 L545.84,357.24 L546.66,355.47 L547.48,353.75 L548.30,352.09 L549.12,350.48 L549.93,348.92 L550.75,347.41 L551.57,345.95 L552.39,344.53 L553.21,343.16 L554.03,341.83 L554.85,340.54 L555.66,339.29 L556.48,338.07 L557.30,336.89 L558.12,335.75 L558.94,334.64 L559.76,333.57 L560.57,332.54 L561.39,331.54 L562.21,330.57 L563.03,329.63 L563.85,328.73 L564.67,327.86 L565.48,327.01 L566.30,326.20 L567.12,325.41 L567.94,324.65 L568.76,323.92 L569.58,323.21 L570.40,322.53 L571.21,321.87 L572.03,321.24 L572.85,320.63 L573.67,320.05 L574.49,319.53 L575.31,319.04 L576.12,318.57 L576.94,318.11 L577.76,317.68 L578.58,317.27 L579.40,316.88 L580.22,316.50 L581.03,316.15 L581.85,315.81 L582.67,315.49 L583.49,315.18 L584.31,314.90 L585.13,314.63 L585.95,314.37 L586.76,314.13 L587.58,313.91 L588.40,313.70 L589.22,313.50 L590.04,313.32 L590.86,313.15 L591.67,313.00 L592.49,312.86 L593.31,312.73 L594.13,312.61 L594.95,312.51 L595.77,312.42 L596.58,312.34 L597.40,312.27 L598.22,312.21 L599.04,312.16 L599.86,312.12 L600.68,312.10 L601.50,312.08 L602.31,312.07 L603.13,312.07 L603.95,312.08 L604.77,312.07 L605.59,312.05 L606.41,312.05 L607.22,312.06 L608.04,312.07 L608.86,312.09 L609.68,312.12 L610.50,312.16 L611.32,312.20 L612.13,312.25 L612.95,312.31 L613.77,312.37 L614.59,312.44 L615.41,312.52 L616.23,312.60 L617.04,312.69 L617.86,312.79 L618.68,312.89 L619.50,312.99 L620.32,313.10 L621.14,313.22 L621.96,313.34 L622.77,313.46 L623.59,313.59 L624.41,313.73 L625.23,313.87 L626.05,314.01 L626.87,314.16 L627.68,314.31 L628.50,314.47 L629.32,314.63 L630.14,314.80 L630.96,315.01 L631.78,315.21 L632.59,315.42 L633.41,315.63 L634.23,315.84 L635.05,316.06 L635.87,316.28 L636.69,316.50 L637.51,316.73 L638.32,316.96 L639.14,317.19 L639.96,317.42 L640.78,317.66 L641.60,317.89 L642.42,318.13 L643.23,318.37 L644.05,318.62 L644.87,318.86 L645.69,319.11 L646.51,319.36 L647.33,319.61 L648.14,319.87 L648.96,320.12 L649.78,320.38 L650.60,320.63 L651.42,320.89 L652.24,321.15 L653.06,321.41 L653.87,321.67 L654.69,321.94 L655.51,322.20 L656.33,322.47 L657.15,322.73 L657.97,323.00 L658.78,323.27 L659.60,323.54 L660.42,323.81 L661.24,324.08 L662.06,324.35 L662.88,324.62 L663.69,324.89 L664.51,325.16 L665.33,325.44 L666.15,325.71 L666.97,325.98 L667.79,326.26 L668.61,326.53 L669.42,326.80 L670.24,327.08 L671.06,327.35 L671.88,327.63 L672.70,327.90 L673.52,328.17 L674.33,328.45 L675.15,328.72 L675.97,329.00 L676.79,329.27 L677.61,329.55 L678.43,329.82 L679.24,330.09 L680.06,330.37 L680.88,330.64 L681.70,330.91 L682.52,331.19 L683.34,331.46 L684.15,331.73 L684.97,332.00 L685.79,332.27 L686.61,332.54 L687.43,332.81 L688.25,333.08 L689.07,333.35 L689.88,333.62 L690.70,333.89 L691.52,334.16 L692.34,334.42 L693.16,334.69 L693.98,334.95 L694.79,335.22 L695.61,335.48 L696.43,335.75 L697.25,336.01 L698.07,336.27 L698.89,336.54 L699.70,336.80 L700.52,337.06 L701.34,337.32 L702.16,337.57 L702.98,337.83 L703.80,338.09 L704.62,338.35 L705.43,338.60 L706.25,338.86 L707.07,339.11 L707.89,339.36 L708.71,339.62 L709.53,339.87 L710.34,340.12 L711.16,340.37 L711.98,340.62 L712.80,340.86 L713.62,341.12 L714.44,341.37 L715.25,341.62 L716.07,341.88 L716.89,342.13 L717.71,342.38 L718.53,342.63 L719.35,342.88 L720.17,343.13 L720.98,343.37 L721.80,343.62 L722.62,343.87 L723.44,344.11 L724.26,344.35 L725.08,344.60 L725.89,344.84 L726.71,345.08 L727.53,345.32 L728.35,345.56 L729.17,345.79 L729.99,346.03 L730.80,346.27 L731.62,346.50 L732.44,346.73 L733.26,346.97 L734.08,347.20 L734.90,347.43 L735.72,347.66 L736.53,347.89 L737.35,348.11 L738.17,348.34 L738.99,348.57 L739.81,348.79 L740.63,349.01 L741.44,349.24 L742.26,349.46 L743.08,349.68 L743.90,349.90 L744.72,350.12 L745.54,350.33 L746.35,350.55 L747.17,350.77 L747.99,350.98 L748.81,351.19 L749.63,351.41 L750.45,351.62 L751.26,351.83 L752.08,352.04 L752.90,352.25 L753.72,352.46 L754.54,352.66 L755.36,352.87 L756.18,353.07 L756.99,353.28 L757.81,353.48 L758.63,353.68 L759.45,353.88 L760.27,354.08 L761.09,354.28 L761.90,354.48 L762.72,354.68 L763.54,354.87 L764.36,355.07 L765.18,355.26 L766.00,355.46 L766.81,355.65 L767.63,355.84 L768.45,356.03 L769.27,356.22 L770.09,356.41 L770.91,356.60 L771.73,356.78 L772.54,356.97 L773.36,357.15 L774.18,357.33 L775.00,357.51 L775.82,357.69 L776.64,357.86 L777.45,358.04 L778.27,358.22 L779.09,358.39" stroke="#ff0000"/>
<path d="M521.90,450.40 L522.11,450.30 L522.32,450.21 L522.49,450.13 L522.52,450.11 L522.73,450.02 L522.94,449.92 L523.15,449.83 L523.36,449.73 L523.56,449.63 L523.77,449.54 L523.98,449.44 L524.19,449.35 L524.40,449.25 L524.61,449.15 L524.81,449.06 L525.02,448.96 L525.23,448.87 L525.44,448.77 L525.65,448.68 L525.85,448.58 L526.06,448.48 L526.27,448.39 L526.48,448.29 L526.69,448.20 L526.89,448.10 L527.10,448.01 L527.31,447.91 L527.52,447.81 L527.73,447.72 L527.93,447.62 L528.14,447.53 L528.35,447.43 L528.56,447.33 L528.77,447.24 L528.97,447.14 L529.18,447.05 L529.39,446.95 L529.60,446.86 L529.81,446.76 L530.02,446.66 L530.22,446.57 L530.43,446.47 L530.64,446.38 L530.85,446.28 L531.06,446.19 L531.26,446.09 L531.47,445.99 L531.68,445.90 L531.89,445.80 L532.10,445.71 L532.30,445.61 L532.51,445.52 L532.72,445.42 L532.93,445.32 L533.14,445.23 L533.34,445.13 L533.55,445.04 L533.76,444.94 L533.97,444.84 L534.18,444.75 L534.38,444.65 L535.20,444.28 L536.02,443.90 L536.84,443.52 L537.66,443.15 L538.48,442.77 L539.30,442.39 L540.11,442.02 L540.93,441.64 L541.75,441.26 L542.57,440.89 L543.39,440.51 L544.21,440.13 L545.02,439.76 L545.84,439.38 L546.66,439.00 L547.48,438.63 L548.30,438.25 L549.12,437.87 L549.93,437.50 L550.75,437.12 L551.57,436.74 L552.39,436.37 L553.21,435.99 L554.03,435.61 L554.85,435.24 L555.66,434.86 L556.48,434.48 L557.30,434.11 L558.12,433.73 L558.94,433.35 L559.76,432.98 L560.57,432.60 L561.39,432.23 L562.21,431.85 L563.03,431.47 L563.85,431.10 L564.67,430.72 L565.48,430.34 L566.30,429.97 L567.12,429.59 L567.94,429.21 L568.76,428.84 L569.58,428.46 L570.40,428.09 L571.21,427.71 L572.03,427.33 L572.85,426.96 L573.67,426.58 L574.49,426.21 L575.31,425.83 L576.12,425.45 L576.94,425.08 L577.76,424.70 L578.58,424.33 L579.40,423.95 L580.22,423.58 L581.03,423.20 L581.85,422.82 L582.67,422.45 L583.49,422.07 L584.31,421.70 L585.13,421.32 L585.95,420.95 L586.76,420.57 L587.58,420.20 L588.40,419.82 L589.22,419.45 L590.04,419.07 L590.86,418.70 L591.67,418.32 L592.49,417.95 L593.31,417.57 L594.13,417.20 L594.95,416.82 L595.77,416.45 L596.58,416.07 L597.40,415.70 L598.22,415.32 L599.04,414.95 L599.86,414.58 L600.68,414.20 L601.50,413.83 L602.31,413.45 L603.13,413.08 L603.95,412.71 L604.77,412.33 L605.59,411.96 L606.41,411.58 L607.22,411.21 L608.04,410.84 L608.86,410.46 L609.68,410.09 L610.50,409.72 L611.32,409.35 L612.13,408.97 L612.95,408.60 L613.77,408.23 L614.59,407.85 L615.41,407.48 L616.23,407.11 L617.04,406.74 L617.86,406.37 L618.68,405.99 L619.50,405.62 L620.32,405.25 L621.14,404.88 L621.96,404.51 L622.77,404.14 L623.59,403.76 L624.41,403.39 L625.23,403.02 L626.05,402.65 L626.87,402.28 L627.68,401.91 L628.50,401.54 L629.32,401.17 L630.14,400.80 L630.96,400.43 L631.78,400.06 L632.59,399.69 L633.41,399.32 L634.23,398.95 L635.05,398.58 L635.87,398.21 L636.69,397.85 L637.51,397.48 L638.32,397.11 L639.14,396.74 L639.96,396.37 L640.78,396.00 L641.60,395.64 L642.42,395.27 L643.23,394.90 L644.05,394.54 L644.87,394.17 L645.69,393.80 L646.51,393.44 L647.33,393.07 L648.14,392.70 L648.96,392.34 L649.78,391.97 L650.60,391.61 L651.42,391.24 L652.24,390.88 L653.06,390.51 L653.87,390.15 L654.69,389.78 L655.51,389.42 L656.33,389.05 L657.15,388.69 L657.97,388.33 L658.78,387.96 L659.60,387.60 L660.42,387.24 L661.24,386.88 L662.06,386.51 L662.88,386.15 L663.69,385.79 L664.51,385.43 L665.33,385.07 L666.15,384.71 L666.97,384.35 L667.79,383.99 L668.61,383.63 L669.42,383.27 L670.24,382.91 L671.06,382.55 L671.88,382.19 L672.70,381.83 L673.52,381.47 L674.33,381.11 L675.15,380.76 L675.97,380.40 L676.79,380.04 L677.61,379.69 L678.43,379.33 L679.24,378.97 L680.06,378.62 L680.88,378.26 L681.70,377.91 L682.52,377.55 L683.34,377.20 L684.15,376.84 L684.97,376.49 L685.79,376.14 L686.61,375.78 L687.43,375.43 L688.25,375.08 L689.07,374.73 L689.88,374.37 L690.70,374.02 L691.52,373.67 L692.34,373.32 L693.16,372.97 L693.98,372.62 L694.79,372.27 L695.61,371.92 L696.43,371.58 L697.25,371.23 L698.07,370.88 L698.89,370.53 L699.70,370.19 L700.52,369.84 L701.34,369.49 L702.16,369.15 L702.98,368.80 L703.80,368.46 L704.62,368.11 L705.43,367.77 L706.25,367.42 L707.07,367.08 L707.89,366.74 L708.71,366.40 L709.53,366.06 L710.34,365.71 L711.16,365.37 L711.98,365.07 L712.80,364.86 L713.62,364.73 L714.44,364.68 L715.25,364.72 L716.07,364.84 L716.89,365.02 L717.71,365.20 L718.53,365.38 L719.35,365.56 L720.17,365.73 L720.98,365.91 L721.80,366.08 L722.62,366.25 L723.44,366.42 L724.26,366.59 L725.08,366.76 L725.89,366.93 L726.71,367.10 L727.53,367.26 L728.35,367.43 L729.17,367.59 L729.99,367.75 L730.80,367.92 L731.62,368.08 L732.44,368.24 L733.26,368.40 L734.08,368.55 L734.90,368.71 L735.72,368.87 L736.53,369.02 L737.35,369.18 L738.17,369.33 L738.99,369.49 L739.81,369.64 L740.63,369.79 L741.44,369.94 L742.26,370.09 L743.08,370.24 L743.90,370.39 L744.72,370.53 L745.54,370.68 L746.35,370.82 L747.17,370.97 L747.99,371.11 L748.81,371.26 L749.63,371.40 L750.45,371.54 L751.26,371.68 L752.08,371.82 L752.90,371.96 L753.72,372.10 L754.54,372.24 L755.36,372.37 L756.18,372.51 L756.99,372.65 L757.81,372.78 L758.63,372.91 L759.45,373.05 L760.27,373.18 L761.09,373.31 L761.90,373.44 L762.72,373.58 L763.54,373.71 L764.36,373.84 L765.18,373.96 L766.00,374.09 L766.81,374.22 L767.63,374.35 L768.45,374.47 L769.27,374.60 L770.09,374.72 L770.91,374.85 L771.73,374.97 L772.54,375.10 L773.36,375.22 L774.18,375.34 L775.00,375.46 L775.82,375.58 L776.64,375.70 L777.45,375.82 L778.27,375.94 L779.09,376.06" stroke="#0000ff"/>
<path d="M522.49,445.35 L522.52,445.07 L522.73,443.53 L522.94,442.05 L523.15,440.63 L523.36,439.25 L523.56,437.90 L523.77,436.59 L523.98,435.31 L524.19,434.05 L524.40,432.82 L524.61,431.60 L524.81,430.38 L525.02,429.18 L525.23,428.00 L525.44,426.84 L525.65,425.70 L525.85,424.58 L526.06,423.47 L526.27,422.38 L526.48,421.30 L526.69,420.24 L526.89,419.19 L527.10,418.16 L527.31,417.14 L527.52,416.13 L527.73,415.14 L527.93,414.15 L528.14,413.18 L528.35,412.22 L528.56,411.27 L528.77,410.33 L528.97,409.40 L529.18,408.48 L529.39,407.57 L529.60,406.67 L529.81,405.78 L530.02,404.90 L530.22,404.03 L530.43,403.17 L530.64,402.32 L530.85,401.47 L531.06,400.64 L531.26,399.81 L531.47,398.99 L531.68,398.18 L531.89,397.38 L532.10,396.59 L532.30,395.80 L532.51,395.02 L532.72,394.25 L532.93,393.49 L533.14,392.73 L533.34,391.98 L533.55,391.24 L533.76,390.50 L533.97,389.78 L534.18,389.05 L534.38,388.34 L535.20,385.57 L536.02,382.89 L536.84,380.30 L537.66,377.79 L538.48,375.37 L539.30,373.03 L540.11,370.77 L540.93,368.57 L541.75,366.45 L542.57,364.39 L543.39,362.35 L544.21,360.37 L545.02,358.45 L545.84,356.59 L546.66,354.79 L547.48,353.04 L548.30,351.34 L549.12,349.70 L549.93,348.10 L550.75,346.56 L551.57,345.06 L552.39,343.61 L553.21,342.20 L554.03,340.83 L554.85,339.50 L555.66,338.20 L556.48,336.95 L557.30,335.72 L558.12,334.54 L558.94,333.39 L559.76,332.28 L560.57,331.20 L561.39,330.16 L562.21,329.14 L563.03,328.16 L563.85,327.21 L564.67,326.28 L565.48,325.39 L566.30,324.53 L567.12,323.69 L567.94,322.88 L568.76,322.09 L569.58,321.33 L570.40,320.59 L571.21,319.88 L572.03,319.19 L572.85,318.53 L573.67,317.89 L574.49,317.32 L575.31,316.76 L576.12,316.23 L576.94,315.71 L577.76,315.22 L578.58,314.74 L579.40,314.28 L580.22,313.84 L581.03,313.42 L581.85,313.01 L582.67,312.62 L583.49,312.25 L584.31,311.89 L585.13,311.55 L585.95,311.22 L586.76,310.91 L587.58,310.61 L588.40,310.32 L589.22,310.05 L590.04,309.79 L590.86,309.54 L591.67,309.31 L592.49,309.08 L593.31,308.87 L594.13,308.67 L594.95,308.48 L595.77,308.30 L596.58,308.13 L597.40,307.98 L598.22,307.83 L599.04,307.69 L599.86,307.56 L600.68,307.44 L601.50,307.33 L602.31,307.22 L603.13,307.13 L603.95,307.04 L604.77,306.92 L605.59,306.81 L606.41,306.71 L607.22,306.61 L608.04,306.52 L608.86,306.44 L609.68,306.37 L610.50,306.30 L611.32,306.23 L612.13,306.17 L612.95,306.12 L613.77,306.07 L614.59,306.03 L615.41,305.99 L616.23,305.96 L617.04,305.93 L617.86,305.91 L618.68,305.89 L619.50,305.88 L620.32,305.87 L621.14,305.86 L621.96,305.86 L622.77,305.86 L623.59,305.86 L624.41,305.87 L625.23,305.88 L626.05,305.90 L626.87,305.91 L627.68,305.93 L628.50,305.95 L629.32,305.98 L630.14,306.02 L630.96,306.08 L631.78,306.14 L632.59,306.21 L633.41,306.27 L634.23,306.34 L635.05,306.41 L635.87,306.48 L636.69,306.56 L637.51,306.63 L638.32,306.71 L639.14,306.79 L639.96,306.86 L640.78,306.94 L641.60,307.02 L642.42,307.10 L643.23,307.18 L644.05,307.27 L644.87,307.35 L645.69,307.43 L646.51,307.52 L647.33,307.60 L648.14,307.68 L648.96,307.77 L649.78,307.85 L650.60,307.94 L651.42,308.02 L652.24,308.10 L653.06,308.19 L653.87,308.27 L654.69,308.35 L655.51,308.44 L656.33,308.52 L657.15,308.60 L657.97,308.68 L658.78,308.76 L659.60,308.85 L660.42,308.93 L661.24,309.00 L662.06,309.08 L662.88,309.16 L663.69,309.24 L664.51,309.31 L665.33,309.39 L666.15,309.46 L666.97,309.53 L667.79,309.61 L668.61,309.68 L669.42,309.75 L670.24,309.82 L671.06,309.88 L671.88,309.95 L672.70,310.01 L673.52,310.08 L674.33,310.14 L675.15,310.20 L675.97,310.26 L676.79,310.32 L677.61,310.38 L678.43,310.43 L679.24,310.49 L680.06,310.54 L680.88,310.59 L681.70,310.64 L682.52,310.69 L683.34,310.74 L684.15,310.78 L684.97,310.82 L685.79,310.87 L686.61,310.91 L687.43,310.95 L688.25,310.98 L689.07,311.02 L689.88,311.05 L690.70,311.09 L691.52,311.12 L692.34,311.15 L693.16,311.17 L693.98,311.20 L694.79,311.22 L695.61,311.24 L696.43,311.27 L697.25,311.28 L698.07,311.30 L698.89,311.32 L699.70,311.33 L700.52,311.34 L701.34,311.35 L702.16,311.36 L702.98,311.37 L703.80,311.37 L704.62,311.38 L705.43,311.38 L706.25,311.38 L707.07,311.38 L707.89,311.37 L708.71,311.37 L709.53,311.36 L710.34,311.35 L711.16,311.34 L711.98,311.36 L712.80,311.42 L713.62,311.54 L714.44,311.71 L715.25,311.93 L716.07,312.21 L716.89,312.52 L717.71,312.82 L718.53,313.13 L719.35,313.44 L720.17,313.74 L720.98,314.04 L721.80,314.34 L722.62,314.64 L723.44,314.94 L724.26,315.23 L725.08,315.53 L725.89,315.82 L726.71,316.12 L727.53,316.41 L728.35,316.70 L729.17,316.98 L729.99,317.27 L730.80,317.56 L731.62,317.84 L732.44,318.12 L733.26,318.40 L734.08,318.68 L734.90,318.96 L735.72,319.24 L736.53,319.51 L737.35,319.79 L738.17,320.06 L738.99,320.33 L739.81,320.60 L740.63,320.87 L741.44,321.14 L742.26,321.41 L743.08,321.67 L743.90,321.94 L744.72,322.20 L745.54,322.46 L746.35,322.72 L747.17,322.98 L747.99,323.24 L748.81,323.49 L749.63,323.75 L750.45,324.00 L751.26,324.25 L752.08,324.50 L752.90,324.75 L753.72,325.00 L754.54,325.25 L755.36,325.50 L756.18,325.74 L756.99,325.99 L757.81,326.23 L758.63,326.47 L759.45,326.71 L760.27,326.95 L761.09,327.19 L761.90,327.43 L762.72,327.66 L763.54,327.90 L764.36,328.13 L765.18,328.36 L766.00,328.59 L766.81,328.82 L767.63,329.05 L768.45,329.28 L769.27,329.50 L770.09,329.73 L770.91,329.95 L771.73,330.18 L772.54,330.40 L773.36,330.62 L774.18,330.83 L775.00,331.05 L775.82,331.26 L776.64,331.48 L777.45,331.69 L778.27,331.90 L779.09,332.11" stroke="#000"/>
</g>
<g fill="#5e81b5"><path d="M724.87,310.93h7.0M724.87,321.92h7.0M728.37,310.93V321.92M682.41,306.19h7.0M682.41,317.54h7.0M685.91,306.19V317.54M648.67,301.23h7.0M648.67,312.98h7.0M652.17,301.23V312.98M621.88,298.88h7.0M621.88,310.81h7.0M625.38,298.88V310.81M600.60,299.79h7.0M600.60,311.65h7.0M604.10,299.79V311.65M583.69,304.37h7.0M583.69,315.87h7.0M587.19,304.37V315.87M570.26,312.48h7.0M570.26,323.34h7.0M573.76,312.48V323.34M559.60,322.99h7.0M559.60,333.02h7.0M563.10,322.99V333.02M551.12,335.36h7.0M551.12,344.42h7.0M554.62,335.36V344.42M544.39,348.27h7.0M544.39,356.31h7.0M547.89,348.27V356.31M539.05,360.96h7.0M539.05,368.00h7.0M542.55,360.96V368.00M534.80,373.12h7.0M534.80,379.21h7.0M538.30,373.12V379.21M531.43,383.89h7.0M531.43,389.13h7.0M534.93,383.89V389.13M528.75,393.92h7.0M528.75,398.37h7.0M532.25,393.92V398.37M526.62,402.45h7.0M526.62,406.23h7.0M530.12,402.45V406.23M524.93,410.29h7.0M524.93,413.45h7.0M528.43,410.29V413.45M523.59,416.91h7.0M523.59,419.54h7.0M527.09,416.91V419.54M522.52,422.83h7.0M522.52,425.00h7.0M526.02,422.83V425.00M521.67,427.57h7.0M521.67,429.37h7.0M525.17,427.57V429.37M521.00,431.52h7.0M521.00,433.01h7.0M524.50,431.52V433.01" fill="none" stroke="#5e81b5" stroke-width="2.4"/><circle cx="728.37" cy="316.42" r="1.7"/><circle cx="685.91" cy="311.87" r="1.7"/><circle cx="652.17" cy="307.10" r="1.7"/><circle cx="625.38" cy="304.85" r="1.7"/><circle cx="604.10" cy="305.72" r="1.7"/><circle cx="587.19" cy="310.12" r="1.7"/><circle cx="573.76" cy="317.91" r="1.7"/><circle cx="563.10" cy="328.00" r="1.7"/><circle cx="554.62" cy="339.89" r="1.7"/><circle cx="547.89" cy="352.29" r="1.7"/><circle cx="542.55" cy="364.48" r="1.7"/><circle cx="538.30" cy="376.16" r="1.7"/><circle cx="534.93" cy="386.51" r="1.7"/><circle cx="532.25" cy="396.14" r="1.7"/><circle cx="530.12" cy="404.34" r="1.7"/><circle cx="528.43" cy="411.87" r="1.7"/><circle cx="527.09" cy="418.23" r="1.7"/><circle cx="526.02" cy="423.91" r="1.7"/><circle cx="525.17" cy="428.47" r="1.7"/><circle cx="524.50" cy="432.26" r="1.7"/></g>
<g font-family="Liberation Sans, sans-serif" fill="#000">
<text transform="translate(521.90,472.60) scale(1,1.075)" text-anchor="middle" font-size="19.3">0</text>
<text transform="translate(580.56,472.60) scale(1,1.075)" text-anchor="middle" font-size="19.3">10</text>
<text transform="translate(639.21,472.60) scale(1,1.075)" text-anchor="middle" font-size="19.3">20</text>
<text transform="translate(697.87,472.60) scale(1,1.075)" text-anchor="middle" font-size="19.3">30</text>
<text transform="translate(756.53,472.60) scale(1,1.075)" text-anchor="middle" font-size="19.3">40</text>
<text transform="translate(517.30,457.60) scale(1,1.075)" text-anchor="end" font-size="19.3">0</text>
<text transform="translate(517.30,431.98) scale(1,1.075)" text-anchor="end" font-size="19.3">50</text>
<text transform="translate(517.30,406.37) scale(1,1.075)" text-anchor="end" font-size="19.3">100</text>
<text transform="translate(517.30,380.75) scale(1,1.075)" text-anchor="end" font-size="19.3">150</text>
<text transform="translate(517.30,355.13) scale(1,1.075)" text-anchor="end" font-size="19.3">200</text>
<text transform="translate(517.30,329.52) scale(1,1.075)" text-anchor="end" font-size="19.3">250</text>
<text transform="translate(517.30,303.90) scale(1,1.075)" text-anchor="end" font-size="19.3">300</text>
<text transform="translate(646.75,503.40) scale(1,1.045)" text-anchor="middle" font-size="19.0">r [kpc]</text>
<text transform="translate(471.40,373.55) rotate(-90) scale(1,1.045)" text-anchor="middle" font-size="19.0">v [km/s]</text>
</g>
</svg>
</body></html>
